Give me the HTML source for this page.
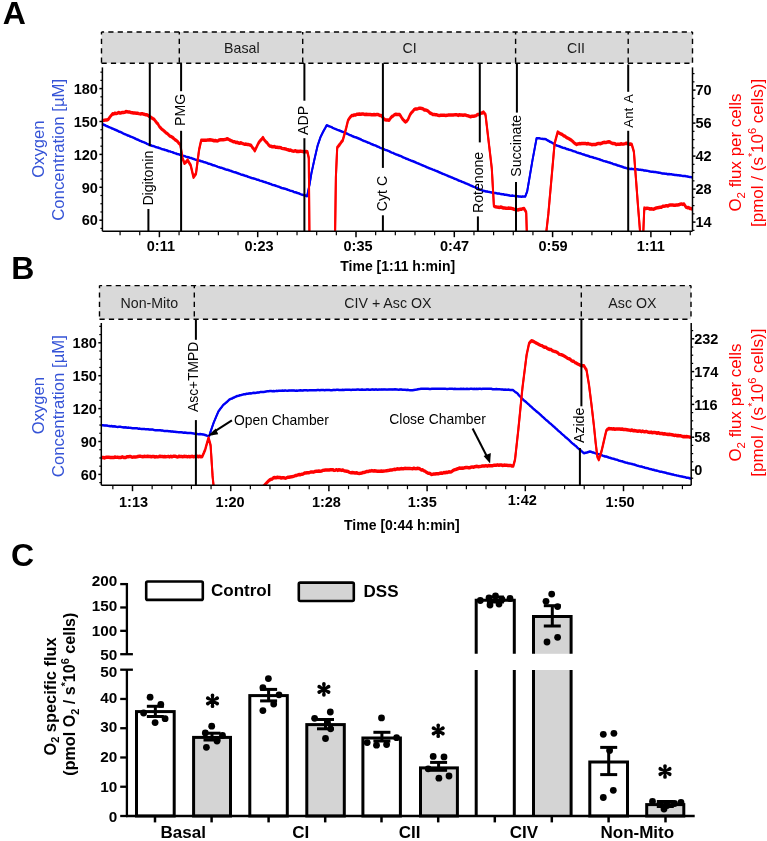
<!DOCTYPE html>
<html><head><meta charset="utf-8"><title>Figure</title>
<style>
html,body{margin:0;padding:0;background:#fff;}
body{width:767px;height:841px;overflow:hidden;}
svg{display:block;font-family:"Liberation Sans", sans-serif;will-change:transform;}
</style></head><body>
<svg width="767" height="841" viewBox="0 0 767 841">
<defs>
<clipPath id="clipA"><rect x="101.5" y="63" width="591" height="168.2"/></clipPath>
<clipPath id="clipB"><rect x="100" y="319" width="591.5" height="166.2"/></clipPath>
</defs>
<rect width="767" height="841" fill="#fff"/>
<text x="2.8" y="24" font-size="32" font-weight="bold" fill="#000" text-anchor="start">A</text>
<rect x="101.5" y="32" width="591" height="31.2" fill="#d9d9d9" stroke="none" stroke-width="1"/>
<line x1="101.5" y1="32" x2="692.5" y2="32" stroke="#000" stroke-width="1.4" stroke-dasharray="5.2,4.2" stroke-dashoffset="2.6"/>
<line x1="101.5" y1="63.2" x2="692.5" y2="63.2" stroke="#000" stroke-width="1.4" stroke-dasharray="5.2,4.2"/>
<line x1="101.5" y1="32" x2="101.5" y2="63.2" stroke="#000" stroke-width="1.4" stroke-dasharray="5.2,4.2" stroke-dashoffset="2.6"/>
<line x1="692.5" y1="32" x2="692.5" y2="63.2" stroke="#000" stroke-width="1.4" stroke-dasharray="5.2,4.2" stroke-dashoffset="2.6"/>
<line x1="179.3" y1="32" x2="179.3" y2="63.2" stroke="#000" stroke-width="1.4" stroke-dasharray="5.2,4.2" stroke-dashoffset="2.6"/>
<line x1="302.7" y1="32" x2="302.7" y2="63.2" stroke="#000" stroke-width="1.4" stroke-dasharray="5.2,4.2" stroke-dashoffset="2.6"/>
<line x1="515.6" y1="32" x2="515.6" y2="63.2" stroke="#000" stroke-width="1.4" stroke-dasharray="5.2,4.2" stroke-dashoffset="2.6"/>
<line x1="628.2" y1="32" x2="628.2" y2="63.2" stroke="#000" stroke-width="1.4" stroke-dasharray="5.2,4.2" stroke-dashoffset="2.6"/>
<text x="241.8" y="52.5" font-size="14.2" font-weight="normal" fill="#1a1a1a" text-anchor="middle">Basal</text>
<text x="409.5" y="52.5" font-size="14.2" font-weight="normal" fill="#1a1a1a" text-anchor="middle">CI</text>
<text x="576" y="52.5" font-size="14.2" font-weight="normal" fill="#1a1a1a" text-anchor="middle">CII</text>
<g clip-path="url(#clipA)">
<polyline points="102.6,124 103.8,124.46 105.01,124.93 106.21,125.64 107.41,125.96 108.61,126.65 109.82,127.12 111.02,127.54 112.22,128.23 113.42,128.59 114.63,129.26 115.83,129.66 117.03,130.19 118.23,130.84 119.44,131.51 120.64,131.79 121.84,132.35 123.04,133.03 124.25,133.67 125.45,134.06 126.65,134.53 127.85,135.26 129.06,135.46 130.26,136.28 131.46,136.6 132.66,137.08 133.87,137.6 135.07,138.19 136.27,138.9 137.47,139.2 138.68,139.88 139.88,140.42 141.08,140.86 142.28,141.45 143.49,141.8 144.69,142.33 145.89,142.91 147.09,143.61 148.3,144.05 149.5,144.6 150.7,144.92 151.91,145.41 153.11,145.75 154.32,146.08 155.52,146.65 156.72,147 157.93,147.23 159.13,147.73 160.33,148.11 161.54,148.62 162.74,148.96 163.95,149.19 165.15,149.82 166.35,149.9 167.56,150.4 168.76,150.91 169.97,151.08 171.17,151.59 172.37,151.81 173.58,152.43 174.78,152.85 175.98,153.17 177.19,153.67 178.39,153.86 179.6,154.38 180.8,154.7 182.08,155.12 183.36,155.5 184.64,155.84 185.92,156.37 187.2,156.79 188.48,157.01 189.76,157.47 191.04,157.64 192.32,158.25 193.6,158.62 194.88,159.13 196.16,159.46 197.44,159.65 198.72,160.07 200,160.5 201.2,160.96 202.4,161.12 203.6,161.67 204.8,161.96 206,162.34 207.2,162.72 208.4,163.37 209.6,163.53 210.8,163.97 212,164.42 213.2,164.99 214.4,165.1 215.6,165.63 216.8,166.06 218,166.58 219.2,166.95 220.4,167.36 221.6,167.55 222.8,167.99 224,168.37 225.2,168.95 226.4,169.38 227.6,169.48 228.8,169.89 230,170.3 231.2,170.7 232.4,171.19 233.6,171.62 234.8,171.9 236,172.2 237.2,172.75 238.4,173.12 239.6,173.59 240.8,174.13 242,174.43 243.2,174.76 244.4,175.19 245.6,175.61 246.8,175.78 248,176.48 249.2,176.84 250.4,177.27 251.6,177.64 252.8,177.89 254,178.28 255.2,178.57 256.4,179.16 257.6,179.35 258.8,179.75 260,180.3 261.21,180.6 262.42,180.98 263.62,181.44 264.83,181.74 266.04,182.12 267.25,182.57 268.45,182.96 269.66,183.45 270.87,183.73 272.08,184.43 273.28,184.74 274.49,184.97 275.7,185.41 276.91,185.85 278.12,186.25 279.32,186.56 280.53,187.23 281.74,187.68 282.95,187.89 284.15,188.29 285.36,188.55 286.57,188.96 287.78,189.44 288.98,189.82 290.19,190.42 291.4,190.58 292.61,190.93 293.82,191.66 295.02,191.91 296.23,192.17 297.44,192.72 298.65,192.93 299.85,193.51 301.06,194.07 302.27,194.43 303.48,194.77 304.68,195.01 305.89,195.45 307.1,195.9 309.5,184.5 311.4,173 312.85,166.35 314.3,159.7 315.95,152.55 317.6,145.4 319.05,141.1 320.5,136.8 322.15,133.38 323.8,130.2 325.25,127.65 326.7,124.9 327.91,125.42 329.11,126.01 330.32,126.36 331.53,126.82 332.74,127.54 333.94,128.11 335.15,128.57 336.36,129.06 337.57,129.57 338.77,130.04 339.98,130.37 341.19,130.98 342.39,131.42 343.6,131.81 344.81,132.32 346.02,132.91 347.22,133.41 348.43,134.07 349.64,134.67 350.84,135 352.05,135.68 353.26,136.2 354.47,136.7 355.67,136.99 356.88,137.44 358.09,137.95 359.3,138.45 360.5,138.96 361.71,139.61 362.92,140.22 364.12,140.7 365.33,141.08 366.54,141.65 367.75,142.2 368.95,142.45 370.16,143.17 371.37,143.76 372.58,144.22 373.78,144.72 374.99,145.12 376.2,145.52 377.4,146.25 378.61,146.59 379.82,147.26 381.03,147.83 382.23,148.13 383.44,148.64 384.65,149.34 385.86,149.76 387.06,150.07 388.27,150.56 389.48,151.08 390.68,151.85 391.89,152.32 393.1,152.59 394.31,153.34 395.51,153.9 396.72,154.29 397.93,154.69 399.13,155.27 400.34,155.62 401.55,156.08 402.76,156.93 403.96,157.32 405.17,157.79 406.38,158.44 407.59,158.76 408.79,159.43 410,159.8 411.21,160.42 412.41,160.7 413.62,161.22 414.82,161.73 416.03,162.22 417.23,162.84 418.44,163.23 419.64,163.79 420.85,164.18 422.06,164.97 423.26,165.27 424.47,165.81 425.67,166.35 426.88,166.97 428.08,167.3 429.29,167.98 430.49,168.33 431.7,168.84 432.91,169.34 434.11,169.66 435.32,170.32 436.52,170.73 437.73,171.16 438.93,171.95 440.14,172.23 441.34,172.84 442.55,173.43 443.76,173.87 444.96,174.29 446.17,174.86 447.37,175.38 448.58,175.96 449.78,176.22 450.99,176.88 452.19,177.27 453.4,177.79 454.61,178.47 455.81,178.87 457.02,179.39 458.22,179.97 459.43,180.52 460.63,180.86 461.84,181.42 463.04,181.88 464.25,182.39 465.46,182.95 466.66,183.37 467.87,183.9 469.07,184.38 470.28,185.05 471.48,185.47 472.69,186.03 473.89,186.56 475.1,186.9 476.48,187.45 477.87,188.19 479.25,188.96 480.63,189.56 482.02,189.94 483.4,190.7 484.6,190.78 485.8,191.11 487,191.19 488.2,191.46 489.4,191.62 490.6,192.05 491.8,192.2 493.08,192.51 494.37,192.76 495.65,192.7 496.94,193.11 498.22,193.3 499.51,193.32 500.79,193.79 502.08,194.03 503.36,193.97 504.65,194.44 505.93,194.45 507.22,194.69 508.5,194.9 509.8,195.25 511.1,195.37 512.4,195.3 513.7,195.58 515,195.78 516.3,195.89 517.6,196.02 518.9,196.3 520.16,196.23 521.42,196.38 522.68,196.13 523.94,196.32 525.2,196.3 527.2,191.1 528.53,183.27 529.85,175.45 531.17,167.62 532.5,159.8 533.87,152.5 535.23,145.2 536.6,137.9 537.94,138.04 539.29,138.04 540.63,138.31 541.97,138.57 543.31,138.69 544.66,138.69 546,139 547.34,139.95 548.67,140.65 550.01,141.49 551.35,141.96 552.69,142.79 554.03,143.48 555.36,144.53 556.7,145.2 557.95,145.54 559.2,145.91 560.45,146.43 561.7,147.03 562.95,147.41 564.2,147.63 565.45,148.01 566.7,148.71 567.95,149.01 569.2,149.47 570.45,149.67 571.7,150.08 572.95,150.73 574.2,151.05 575.45,151.35 576.7,152.08 577.95,152.39 579.2,152.87 580.45,153.03 581.7,153.6 582.91,154.11 584.12,154.21 585.32,154.88 586.53,155.12 587.74,155.46 588.95,155.92 590.16,156.44 591.36,156.59 592.57,156.92 593.78,157.45 594.99,157.73 596.19,158.07 597.4,158.47 598.61,158.82 599.82,159.26 601.03,159.68 602.23,160.06 603.44,160.61 604.65,160.82 605.86,161.28 607.07,161.55 608.27,162 609.48,162.26 610.69,162.73 611.9,163.03 613.11,163.67 614.31,163.99 615.52,164.25 616.73,164.73 617.94,165.28 619.14,165.37 620.35,166.01 621.56,166.25 622.77,166.66 623.98,167.17 625.18,167.39 626.39,167.82 627.6,168.2 628.9,168.39 630.2,168.62 631.5,168.52 632.8,168.82 634.1,168.9 635.4,169 636.7,169.04 638,169.2 639.24,169.34 640.47,169.42 641.71,169.64 642.95,169.81 644.18,170.24 645.42,170.26 646.65,170.42 647.89,170.58 649.13,171.04 650.36,171.24 651.6,171.36 652.84,171.41 654.07,171.59 655.31,171.8 656.55,172.05 657.78,172.13 659.02,172.43 660.25,172.55 661.49,172.99 662.73,173.19 663.96,173.23 665.2,173.4 666.43,173.47 667.66,173.89 668.9,173.81 670.13,173.98 671.36,174.02 672.59,174.31 673.82,174.5 675.05,174.67 676.29,174.72 677.52,174.99 678.75,174.97 679.98,175.22 681.21,175.32 682.45,175.59 683.68,175.62 684.91,175.77 686.14,176.03 687.37,176.17 688.6,176.45 689.84,176.59 691.07,176.83 692.3,176.9" fill="none" stroke="#0000f5" stroke-width="1.9" stroke-linejoin="round" stroke-linecap="round"/>
<polyline points="102.6,124.6 103.8,125.06 105.01,125.53 106.21,126.24 107.41,126.56 108.61,127.25 109.82,127.72 111.02,128.14 112.22,128.83 113.42,129.19 114.63,129.86 115.83,130.26 117.03,130.79 118.23,131.44 119.44,132.11 120.64,132.39 121.84,132.95 123.04,133.63 124.25,134.27 125.45,134.66 126.65,135.13 127.85,135.86 129.06,136.06 130.26,136.88 131.46,137.2 132.66,137.68 133.87,138.2 135.07,138.79 136.27,139.5 137.47,139.8 138.68,140.48 139.88,141.02 141.08,141.46 142.28,142.05 143.49,142.4 144.69,142.93 145.89,143.51 147.09,144.21 148.3,144.65 149.5,145.2 150.7,145.52 151.91,146.01 153.11,146.35 154.32,146.68 155.52,147.25 156.72,147.6 157.93,147.83 159.13,148.33 160.33,148.71 161.54,149.22 162.74,149.56 163.95,149.79 165.15,150.42 166.35,150.5 167.56,151 168.76,151.51 169.97,151.68 171.17,152.19 172.37,152.41 173.58,153.03 174.78,153.45 175.98,153.77 177.19,154.27 178.39,154.46 179.6,154.98 180.8,155.3 182.08,155.72 183.36,156.1 184.64,156.44 185.92,156.97 187.2,157.39 188.48,157.61 189.76,158.07 191.04,158.24 192.32,158.85 193.6,159.22 194.88,159.73 196.16,160.06 197.44,160.25 198.72,160.67 200,161.1 201.2,161.56 202.4,161.72 203.6,162.27 204.8,162.56 206,162.94 207.2,163.32 208.4,163.97 209.6,164.13 210.8,164.57 212,165.02 213.2,165.59 214.4,165.7 215.6,166.23 216.8,166.66 218,167.18 219.2,167.55 220.4,167.96 221.6,168.15 222.8,168.59 224,168.97 225.2,169.55 226.4,169.98 227.6,170.08 228.8,170.49 230,170.9 231.2,171.3 232.4,171.79 233.6,172.22 234.8,172.5 236,172.8 237.2,173.35 238.4,173.72 239.6,174.19 240.8,174.73 242,175.03 243.2,175.36 244.4,175.79 245.6,176.21 246.8,176.38 248,177.08 249.2,177.44 250.4,177.87 251.6,178.24 252.8,178.49 254,178.88 255.2,179.17 256.4,179.76 257.6,179.95 258.8,180.35 260,180.9 261.21,181.2 262.42,181.58 263.62,182.04 264.83,182.34 266.04,182.72 267.25,183.17 268.45,183.56 269.66,184.05 270.87,184.33 272.08,185.03 273.28,185.34 274.49,185.57 275.7,186.01 276.91,186.45 278.12,186.85 279.32,187.16 280.53,187.83 281.74,188.28 282.95,188.49 284.15,188.89 285.36,189.15 286.57,189.56 287.78,190.04 288.98,190.42 290.19,191.02 291.4,191.18 292.61,191.53 293.82,192.26 295.02,192.51 296.23,192.77 297.44,193.32 298.65,193.53 299.85,194.11 301.06,194.67 302.27,195.03 303.48,195.37 304.68,195.61 305.89,196.05 307.1,196.5 309.5,185.1 311.4,173.6 312.85,166.95 314.3,160.3 315.95,153.15 317.6,146 319.05,141.7 320.5,137.4 322.15,133.98 323.8,130.8 325.25,128.25 326.7,125.5 327.91,126.02 329.11,126.61 330.32,126.96 331.53,127.42 332.74,128.14 333.94,128.71 335.15,129.17 336.36,129.66 337.57,130.17 338.77,130.64 339.98,130.97 341.19,131.58 342.39,132.02 343.6,132.41 344.81,132.92 346.02,133.51 347.22,134.01 348.43,134.67 349.64,135.27 350.84,135.6 352.05,136.28 353.26,136.8 354.47,137.3 355.67,137.59 356.88,138.04 358.09,138.55 359.3,139.05 360.5,139.56 361.71,140.21 362.92,140.82 364.12,141.3 365.33,141.68 366.54,142.25 367.75,142.8 368.95,143.05 370.16,143.77 371.37,144.36 372.58,144.82 373.78,145.32 374.99,145.72 376.2,146.12 377.4,146.85 378.61,147.19 379.82,147.86 381.03,148.43 382.23,148.73 383.44,149.24 384.65,149.94 385.86,150.36 387.06,150.67 388.27,151.16 389.48,151.68 390.68,152.45 391.89,152.92 393.1,153.19 394.31,153.94 395.51,154.5 396.72,154.89 397.93,155.29 399.13,155.87 400.34,156.22 401.55,156.68 402.76,157.53 403.96,157.92 405.17,158.39 406.38,159.04 407.59,159.36 408.79,160.03 410,160.4 411.21,161.02 412.41,161.3 413.62,161.82 414.82,162.33 416.03,162.82 417.23,163.44 418.44,163.83 419.64,164.39 420.85,164.78 422.06,165.57 423.26,165.87 424.47,166.41 425.67,166.95 426.88,167.57 428.08,167.9 429.29,168.58 430.49,168.93 431.7,169.44 432.91,169.94 434.11,170.26 435.32,170.92 436.52,171.33 437.73,171.76 438.93,172.55 440.14,172.83 441.34,173.44 442.55,174.03 443.76,174.47 444.96,174.89 446.17,175.46 447.37,175.98 448.58,176.56 449.78,176.82 450.99,177.48 452.19,177.87 453.4,178.39 454.61,179.07 455.81,179.47 457.02,179.99 458.22,180.57 459.43,181.12 460.63,181.46 461.84,182.02 463.04,182.48 464.25,182.99 465.46,183.55 466.66,183.97 467.87,184.5 469.07,184.98 470.28,185.65 471.48,186.07 472.69,186.63 473.89,187.16 475.1,187.5 476.48,188.05 477.87,188.79 479.25,189.56 480.63,190.16 482.02,190.54 483.4,191.3 484.6,191.38 485.8,191.71 487,191.79 488.2,192.06 489.4,192.22 490.6,192.65 491.8,192.8 493.08,193.11 494.37,193.36 495.65,193.3 496.94,193.71 498.22,193.9 499.51,193.92 500.79,194.39 502.08,194.63 503.36,194.57 504.65,195.04 505.93,195.05 507.22,195.29 508.5,195.5 509.8,195.85 511.1,195.97 512.4,195.9 513.7,196.18 515,196.38 516.3,196.49 517.6,196.62 518.9,196.9 520.16,196.83 521.42,196.98 522.68,196.73 523.94,196.92 525.2,196.9 527.2,191.7 528.53,183.88 529.85,176.05 531.17,168.23 532.5,160.4 533.87,153.1 535.23,145.8 536.6,138.5 537.94,138.64 539.29,138.64 540.63,138.91 541.97,139.17 543.31,139.29 544.66,139.29 546,139.6 547.34,140.55 548.67,141.25 550.01,142.09 551.35,142.56 552.69,143.39 554.03,144.08 555.36,145.13 556.7,145.8 557.95,146.14 559.2,146.51 560.45,147.03 561.7,147.63 562.95,148.01 564.2,148.23 565.45,148.61 566.7,149.31 567.95,149.61 569.2,150.07 570.45,150.27 571.7,150.68 572.95,151.33 574.2,151.65 575.45,151.95 576.7,152.68 577.95,152.99 579.2,153.47 580.45,153.63 581.7,154.2 582.91,154.71 584.12,154.81 585.32,155.48 586.53,155.72 587.74,156.06 588.95,156.52 590.16,157.04 591.36,157.19 592.57,157.52 593.78,158.05 594.99,158.33 596.19,158.67 597.4,159.07 598.61,159.42 599.82,159.86 601.03,160.28 602.23,160.66 603.44,161.21 604.65,161.42 605.86,161.88 607.07,162.15 608.27,162.6 609.48,162.86 610.69,163.33 611.9,163.63 613.11,164.27 614.31,164.59 615.52,164.85 616.73,165.33 617.94,165.88 619.14,165.97 620.35,166.61 621.56,166.85 622.77,167.26 623.98,167.77 625.18,167.99 626.39,168.42 627.6,168.8 628.9,168.99 630.2,169.22 631.5,169.12 632.8,169.42 634.1,169.5 635.4,169.6 636.7,169.64 638,169.8 639.24,169.94 640.47,170.02 641.71,170.24 642.95,170.41 644.18,170.84 645.42,170.86 646.65,171.02 647.89,171.18 649.13,171.64 650.36,171.84 651.6,171.96 652.84,172.01 654.07,172.19 655.31,172.4 656.55,172.65 657.78,172.73 659.02,173.03 660.25,173.15 661.49,173.59 662.73,173.79 663.96,173.83 665.2,174 666.43,174.07 667.66,174.49 668.9,174.41 670.13,174.58 671.36,174.62 672.59,174.91 673.82,175.1 675.05,175.27 676.29,175.32 677.52,175.59 678.75,175.57 679.98,175.82 681.21,175.92 682.45,176.19 683.68,176.22 684.91,176.37 686.14,176.63 687.37,176.77 688.6,177.05 689.84,177.19 691.07,177.43 692.3,177.5" fill="none" stroke="#0000f5" stroke-width="1.9" stroke-linejoin="round" stroke-linecap="round"/>
<polyline points="102.5,119.75 103.95,119.6 105.4,119.37 106.85,119.23 108.3,118.65 109.7,116.69 111.1,114.78 112.5,113.05 113.72,113.26 114.93,112.42 116.15,112.7 117.37,112.46 118.58,111.81 119.8,112.27 121.02,112.14 122.23,111.75 123.45,111.66 124.67,111.55 125.88,110.84 127.1,110.95 128.4,111.16 129.7,111.33 131,111.78 132.3,111.94 133.6,112.15 134.9,112.14 136.2,112.58 137.5,112.45 138.81,112.86 140.12,113.13 141.44,113.02 142.75,113.12 144.06,113.47 145.38,113.91 146.69,113.97 148,114.55 149.24,115.64 150.48,116.24 151.72,117.11 152.96,117.93 154.2,118.65 155.46,120.47 156.72,122 157.98,123.29 159.24,125.61 160.5,127.05 161.88,128.47 163.27,129.49 164.65,130.73 166.03,132.04 167.42,132.79 168.8,134.35 170.02,135.41 171.23,135.89 172.45,136.61 173.67,137.63 174.88,138.87 176.1,139.55 177.5,140.71 178.9,142.54 180.3,143.75 182.4,157.25 184.5,162.55 186.05,161.33 187.6,159.35 189.15,161.95 190.7,164.55 192.1,170.5 193.5,176.45 194.75,174.61 196,172.95 197.55,160.95 199.1,148.95 201.2,139.55 202.42,139.47 203.63,139.56 204.85,139.56 206.07,139.38 207.28,139.33 208.5,139.15 209.88,138.98 211.27,139.2 212.65,139.45 214.03,140.01 215.42,139.83 216.8,140.15 218.1,139.94 219.4,139.23 220.7,139.01 222,138.92 223.3,138.98 224.6,138.73 225.9,138.45 227.2,138.05 228.46,138.48 229.72,139.26 230.98,139.82 232.24,140.42 233.5,141.05 234.75,140.97 236,141.82 237.25,141.5 238.5,142.35 239.75,142.55 241,142.04 242.25,142.63 243.5,143.15 244.75,143.49 246,143.35 247.3,143.66 248.6,143.86 249.9,144.17 251.2,144.75 252.4,146.84 253.6,147.99 254.8,149.95 256.55,146.37 258.3,142.65 259.83,140.43 261.37,138.8 262.9,136.85 264.25,139.11 265.6,140.65 267,141.89 268.4,143.97 269.8,145.25 271.02,145.46 272.23,145.96 273.45,146.01 274.67,145.84 275.88,146.57 277.1,146.45 278.32,146.73 279.53,146.65 280.75,146.93 281.97,147.61 283.18,147.87 284.4,148.04 285.62,148.2 286.83,148.66 288.05,148.93 289.27,149.64 290.48,149.26 291.7,149.95 292.91,150.24 294.12,150.39 295.32,149.9 296.53,150.63 297.74,150.54 298.95,150.78 300.15,150.37 301.36,150.52 302.57,150.63 303.78,151.2 304.98,150.95 306.19,150.85 307.4,151.05 308.8,157.25 309.4,231.25" fill="none" stroke="#ff0000" stroke-width="2" stroke-linejoin="round" stroke-linecap="round"/>
<polyline points="102.5,121.25 103.95,121.1 105.4,120.87 106.85,120.73 108.3,120.15 109.7,118.19 111.1,116.28 112.5,114.55 113.72,114.76 114.93,113.92 116.15,114.2 117.37,113.96 118.58,113.31 119.8,113.77 121.02,113.64 122.23,113.25 123.45,113.16 124.67,113.05 125.88,112.34 127.1,112.45 128.4,112.66 129.7,112.83 131,113.28 132.3,113.44 133.6,113.65 134.9,113.64 136.2,114.08 137.5,113.95 138.81,114.36 140.12,114.63 141.44,114.52 142.75,114.62 144.06,114.97 145.38,115.41 146.69,115.47 148,116.05 149.24,117.14 150.48,117.74 151.72,118.61 152.96,119.43 154.2,120.15 155.46,121.97 156.72,123.5 157.98,124.79 159.24,127.11 160.5,128.55 161.88,129.97 163.27,130.99 164.65,132.23 166.03,133.54 167.42,134.29 168.8,135.85 170.02,136.91 171.23,137.39 172.45,138.11 173.67,139.13 174.88,140.37 176.1,141.05 177.5,142.21 178.9,144.04 180.3,145.25 182.4,158.75 184.5,164.05 186.05,162.83 187.6,160.85 189.15,163.45 190.7,166.05 192.1,172 193.5,177.95 194.75,176.11 196,174.45 197.55,162.45 199.1,150.45 201.2,141.05 202.42,140.97 203.63,141.06 204.85,141.06 206.07,140.88 207.28,140.83 208.5,140.65 209.88,140.48 211.27,140.7 212.65,140.95 214.03,141.51 215.42,141.33 216.8,141.65 218.1,141.44 219.4,140.73 220.7,140.51 222,140.42 223.3,140.48 224.6,140.23 225.9,139.95 227.2,139.55 228.46,139.98 229.72,140.76 230.98,141.32 232.24,141.92 233.5,142.55 234.75,142.47 236,143.32 237.25,143 238.5,143.85 239.75,144.05 241,143.54 242.25,144.13 243.5,144.65 244.75,144.99 246,144.85 247.3,145.16 248.6,145.36 249.9,145.67 251.2,146.25 252.4,148.34 253.6,149.49 254.8,151.45 256.55,147.87 258.3,144.15 259.83,141.93 261.37,140.3 262.9,138.35 264.25,140.61 265.6,142.15 267,143.39 268.4,145.47 269.8,146.75 271.02,146.96 272.23,147.46 273.45,147.51 274.67,147.34 275.88,148.07 277.1,147.95 278.32,148.23 279.53,148.15 280.75,148.43 281.97,149.11 283.18,149.37 284.4,149.54 285.62,149.7 286.83,150.16 288.05,150.43 289.27,151.14 290.48,150.76 291.7,151.45 292.91,151.74 294.12,151.89 295.32,151.4 296.53,152.13 297.74,152.04 298.95,152.28 300.15,151.87 301.36,152.02 302.57,152.13 303.78,152.7 304.98,152.45 306.19,152.35 307.4,152.55 308.8,158.75 309.4,232.75" fill="none" stroke="#ff0000" stroke-width="2" stroke-linejoin="round" stroke-linecap="round"/>
<polyline points="335.1,231.25 335.9,176.05 337.2,146.85 338.45,145.24 339.7,143.75 341.25,141.47 342.8,139.55 344.4,133.8 346,128.05 348,119.75 349.23,117.76 350.47,116.16 351.7,114.85 352.96,114.84 354.22,114.12 355.48,114.36 356.74,113.53 358,113.45 359.38,113.26 360.77,113.46 362.15,113.2 363.53,113.35 364.92,113.81 366.3,113.45 367.6,113.81 368.9,113.8 370.2,113.7 371.5,113.98 372.8,114.05 374.1,113.79 375.4,113.98 376.7,113.85 378.23,113.82 379.77,114.7 381.3,114.85 382.53,116.21 383.77,117.85 385,119.05 386.4,119.3 387.8,119.15 389.2,119.45 390.6,117.24 392,115.75 393.25,115.14 394.5,113.85 395.8,113.55 397.1,113.83 398.4,113.72 399.7,113.85 401.1,115.89 402.5,118.25 404,119.89 405.5,121.15 406.75,120.33 408,118.75 410.1,113.85 411.5,111.92 412.9,110.51 414.3,108.65 415.54,108.27 416.78,108.26 418.02,107.91 419.26,107.5 420.5,107.55 421.76,107.7 423.02,108.16 424.28,109.13 425.54,109.23 426.8,109.65 428.04,110.27 429.28,111.66 430.52,112.57 431.76,112.97 433,113.85 434.26,113.76 435.52,114 436.78,114.12 438.04,114.52 439.3,114.85 440.6,114.45 441.9,114.49 443.2,114.43 444.5,114.61 445.8,114.78 447.1,114.6 448.4,114.26 449.7,114.25 450.92,114.18 452.13,114.27 453.35,114.15 454.57,114.12 455.78,113.9 457,114.07 458.22,114.62 459.43,113.95 460.65,114.25 461.87,114.35 463.08,114.54 464.3,114.25 465.56,114.36 466.82,114.75 468.08,115.07 469.34,115.53 470.6,115.95 471.98,115.56 473.37,115.61 474.75,115.18 476.13,114.85 477.52,113.82 478.9,113.85 480.43,112.64 481.97,112.35 483.5,111.35 485.5,113.85 486.76,124.63 488.02,135.41 489.28,146.19 490.54,156.97 491.8,167.75 493.9,205.25 495.45,206.12 497,206.35 498.28,206.44 499.56,206.64 500.83,206.28 502.11,206.71 503.39,207.25 504.67,207.28 505.94,207.41 507.22,207.62 508.5,207.35 509.88,207.43 511.27,207.6 512.65,207.92 514.03,208.5 515.42,208.91 516.8,209.05 518.02,209.19 519.23,208.79 520.45,208.52 521.67,208.4 522.88,207.93 524.1,207.75 526.2,211.55 526.8,231.25" fill="none" stroke="#ff0000" stroke-width="2" stroke-linejoin="round" stroke-linecap="round"/>
<polyline points="335.1,232.75 335.9,177.55 337.2,148.35 338.45,146.74 339.7,145.25 341.25,142.97 342.8,141.05 344.4,135.3 346,129.55 348,121.25 349.23,119.26 350.47,117.66 351.7,116.35 352.96,116.34 354.22,115.62 355.48,115.86 356.74,115.03 358,114.95 359.38,114.76 360.77,114.96 362.15,114.7 363.53,114.85 364.92,115.31 366.3,114.95 367.6,115.31 368.9,115.3 370.2,115.2 371.5,115.48 372.8,115.55 374.1,115.29 375.4,115.48 376.7,115.35 378.23,115.32 379.77,116.2 381.3,116.35 382.53,117.71 383.77,119.35 385,120.55 386.4,120.8 387.8,120.65 389.2,120.95 390.6,118.74 392,117.25 393.25,116.64 394.5,115.35 395.8,115.05 397.1,115.33 398.4,115.22 399.7,115.35 401.1,117.39 402.5,119.75 404,121.39 405.5,122.65 406.75,121.83 408,120.25 410.1,115.35 411.5,113.42 412.9,112.01 414.3,110.15 415.54,109.77 416.78,109.76 418.02,109.41 419.26,109 420.5,109.05 421.76,109.2 423.02,109.66 424.28,110.63 425.54,110.73 426.8,111.15 428.04,111.77 429.28,113.16 430.52,114.07 431.76,114.47 433,115.35 434.26,115.26 435.52,115.5 436.78,115.62 438.04,116.02 439.3,116.35 440.6,115.95 441.9,115.99 443.2,115.93 444.5,116.11 445.8,116.28 447.1,116.1 448.4,115.76 449.7,115.75 450.92,115.68 452.13,115.77 453.35,115.65 454.57,115.62 455.78,115.4 457,115.57 458.22,116.12 459.43,115.45 460.65,115.75 461.87,115.85 463.08,116.04 464.3,115.75 465.56,115.86 466.82,116.25 468.08,116.57 469.34,117.03 470.6,117.45 471.98,117.06 473.37,117.11 474.75,116.68 476.13,116.35 477.52,115.32 478.9,115.35 480.43,114.14 481.97,113.85 483.5,112.85 485.5,115.35 486.76,126.13 488.02,136.91 489.28,147.69 490.54,158.47 491.8,169.25 493.9,206.75 495.45,207.62 497,207.85 498.28,207.94 499.56,208.14 500.83,207.78 502.11,208.21 503.39,208.75 504.67,208.78 505.94,208.91 507.22,209.12 508.5,208.85 509.88,208.93 511.27,209.1 512.65,209.42 514.03,210 515.42,210.41 516.8,210.55 518.02,210.69 519.23,210.29 520.45,210.02 521.67,209.9 522.88,209.43 524.1,209.25 526.2,213.05 526.8,232.75" fill="none" stroke="#ff0000" stroke-width="2" stroke-linejoin="round" stroke-linecap="round"/>
<polyline points="546.3,231.25 548.3,213.65 549.56,199.45 550.82,185.25 552.08,171.05 553.34,156.85 554.6,142.65 556.15,136.95 557.7,131.25 559.3,132.29 560.9,133.25 562.28,133.68 563.67,135.08 565.05,135.44 566.43,136.79 567.82,137.37 569.2,138.05 570.42,138.84 571.63,139.65 572.85,140.7 574.07,141.96 575.28,142.96 576.5,143.75 577.8,143.16 579.1,142.86 580.4,142.94 581.7,142.65 582.95,142.83 584.2,142.78 585.45,142.76 586.7,143.17 587.95,142.81 589.2,143.15 590.45,143.39 591.7,143.9 592.95,143.76 594.2,143.75 595.42,143.83 596.63,143.28 597.85,142.86 599.07,142.65 600.28,142.99 601.5,142.56 602.72,142.02 603.93,141.57 605.15,141.72 606.37,141.64 607.58,141.21 608.8,141.05 610.02,141.31 611.23,142.08 612.45,142.74 613.67,142.63 614.88,142.93 616.1,143.75 617.38,143.5 618.66,143.44 619.93,143.53 621.21,143.02 622.49,143.38 623.77,143.21 625.04,142.9 626.32,142.54 627.6,142.65 629,143.39 630.4,143.23 631.8,143.75 633.9,151.05 635.27,169.12 636.63,187.18 638,205.25 640.1,231.25" fill="none" stroke="#ff0000" stroke-width="2" stroke-linejoin="round" stroke-linecap="round"/>
<polyline points="546.3,232.75 548.3,215.15 549.56,200.95 550.82,186.75 552.08,172.55 553.34,158.35 554.6,144.15 556.15,138.45 557.7,132.75 559.3,133.79 560.9,134.75 562.28,135.18 563.67,136.58 565.05,136.94 566.43,138.29 567.82,138.87 569.2,139.55 570.42,140.34 571.63,141.15 572.85,142.2 574.07,143.46 575.28,144.46 576.5,145.25 577.8,144.66 579.1,144.36 580.4,144.44 581.7,144.15 582.95,144.33 584.2,144.28 585.45,144.26 586.7,144.67 587.95,144.31 589.2,144.65 590.45,144.89 591.7,145.4 592.95,145.26 594.2,145.25 595.42,145.33 596.63,144.78 597.85,144.36 599.07,144.15 600.28,144.49 601.5,144.06 602.72,143.52 603.93,143.07 605.15,143.22 606.37,143.14 607.58,142.71 608.8,142.55 610.02,142.81 611.23,143.58 612.45,144.24 613.67,144.13 614.88,144.43 616.1,145.25 617.38,145 618.66,144.94 619.93,145.03 621.21,144.52 622.49,144.88 623.77,144.71 625.04,144.4 626.32,144.04 627.6,144.15 629,144.89 630.4,144.73 631.8,145.25 633.9,152.55 635.27,170.62 636.63,188.68 638,206.75 640.1,232.75" fill="none" stroke="#ff0000" stroke-width="2" stroke-linejoin="round" stroke-linecap="round"/>
<polyline points="643.3,231.25 644.3,207.35 645.68,207.77 647.07,207.47 648.45,207.63 649.83,208.23 651.22,208.02 652.6,208.35 653.86,208.4 655.12,207.73 656.38,207.17 657.64,206.89 658.9,206.73 660.16,206.62 661.42,206.54 662.68,205.59 663.94,205.47 665.2,205.25 666.45,204.88 667.69,205.35 668.94,204.54 670.19,204.33 671.43,204.2 672.68,204.32 673.93,204.59 675.17,204.44 676.42,204.18 677.67,204.25 678.91,204.06 680.16,203.43 681.41,203.18 682.65,203.64 683.9,203.15 686,206.35 687.26,206.95 688.52,206.78 689.78,207.68 691.04,207.85 692.3,208.35" fill="none" stroke="#ff0000" stroke-width="2" stroke-linejoin="round" stroke-linecap="round"/>
<polyline points="643.3,232.75 644.3,208.85 645.68,209.27 647.07,208.97 648.45,209.13 649.83,209.73 651.22,209.52 652.6,209.85 653.86,209.9 655.12,209.23 656.38,208.67 657.64,208.39 658.9,208.23 660.16,208.12 661.42,208.04 662.68,207.09 663.94,206.97 665.2,206.75 666.45,206.38 667.69,206.85 668.94,206.04 670.19,205.83 671.43,205.7 672.68,205.82 673.93,206.09 675.17,205.94 676.42,205.68 677.67,205.75 678.91,205.56 680.16,204.93 681.41,204.68 682.65,205.14 683.9,204.65 686,207.85 687.26,208.45 688.52,208.28 689.78,209.18 691.04,209.35 692.3,209.85" fill="none" stroke="#ff0000" stroke-width="2" stroke-linejoin="round" stroke-linecap="round"/>
</g>
<line x1="102.4" y1="67.4" x2="102.4" y2="231.2" stroke="#000" stroke-width="1.5"/>
<line x1="102.4" y1="220.2" x2="99.4" y2="220.2" stroke="#000" stroke-width="1.5"/>
<text x="97.9" y="225.4" font-size="14.5" font-weight="bold" fill="#000" text-anchor="end">60</text>
<line x1="102.4" y1="187.3" x2="99.4" y2="187.3" stroke="#000" stroke-width="1.5"/>
<text x="97.9" y="192.5" font-size="14.5" font-weight="bold" fill="#000" text-anchor="end">90</text>
<line x1="102.4" y1="154.4" x2="99.4" y2="154.4" stroke="#000" stroke-width="1.5"/>
<text x="97.9" y="159.6" font-size="14.5" font-weight="bold" fill="#000" text-anchor="end">120</text>
<line x1="102.4" y1="121.5" x2="99.4" y2="121.5" stroke="#000" stroke-width="1.5"/>
<text x="97.9" y="126.7" font-size="14.5" font-weight="bold" fill="#000" text-anchor="end">150</text>
<line x1="102.4" y1="88.6" x2="99.4" y2="88.6" stroke="#000" stroke-width="1.5"/>
<text x="97.9" y="93.8" font-size="14.5" font-weight="bold" fill="#000" text-anchor="end">180</text>
<line x1="102.4" y1="228.42" x2="100.4" y2="228.42" stroke="#000" stroke-width="1.2"/>
<line x1="102.4" y1="211.97" x2="100.4" y2="211.97" stroke="#000" stroke-width="1.2"/>
<line x1="102.4" y1="203.75" x2="100.4" y2="203.75" stroke="#000" stroke-width="1.2"/>
<line x1="102.4" y1="195.52" x2="100.4" y2="195.52" stroke="#000" stroke-width="1.2"/>
<line x1="102.4" y1="179.07" x2="100.4" y2="179.07" stroke="#000" stroke-width="1.2"/>
<line x1="102.4" y1="170.85" x2="100.4" y2="170.85" stroke="#000" stroke-width="1.2"/>
<line x1="102.4" y1="162.62" x2="100.4" y2="162.62" stroke="#000" stroke-width="1.2"/>
<line x1="102.4" y1="146.17" x2="100.4" y2="146.17" stroke="#000" stroke-width="1.2"/>
<line x1="102.4" y1="137.95" x2="100.4" y2="137.95" stroke="#000" stroke-width="1.2"/>
<line x1="102.4" y1="129.72" x2="100.4" y2="129.72" stroke="#000" stroke-width="1.2"/>
<line x1="102.4" y1="113.27" x2="100.4" y2="113.27" stroke="#000" stroke-width="1.2"/>
<line x1="102.4" y1="105.05" x2="100.4" y2="105.05" stroke="#000" stroke-width="1.2"/>
<line x1="102.4" y1="96.82" x2="100.4" y2="96.82" stroke="#000" stroke-width="1.2"/>
<line x1="102.4" y1="80.38" x2="100.4" y2="80.38" stroke="#000" stroke-width="1.2"/>
<line x1="102.4" y1="72.15" x2="100.4" y2="72.15" stroke="#000" stroke-width="1.2"/>
<line x1="692.5" y1="67.4" x2="692.5" y2="231.2" stroke="#000" stroke-width="1.5"/>
<line x1="692.5" y1="222.1" x2="695.5" y2="222.1" stroke="#000" stroke-width="1.5"/>
<text x="695.5" y="227.3" font-size="14.5" font-weight="bold" fill="#000" text-anchor="start">14</text>
<line x1="692.5" y1="189.1" x2="695.5" y2="189.1" stroke="#000" stroke-width="1.5"/>
<text x="695.5" y="194.3" font-size="14.5" font-weight="bold" fill="#000" text-anchor="start">28</text>
<line x1="692.5" y1="156.1" x2="695.5" y2="156.1" stroke="#000" stroke-width="1.5"/>
<text x="695.5" y="161.3" font-size="14.5" font-weight="bold" fill="#000" text-anchor="start">42</text>
<line x1="692.5" y1="123.1" x2="695.5" y2="123.1" stroke="#000" stroke-width="1.5"/>
<text x="695.5" y="128.3" font-size="14.5" font-weight="bold" fill="#000" text-anchor="start">56</text>
<line x1="692.5" y1="90.1" x2="695.5" y2="90.1" stroke="#000" stroke-width="1.5"/>
<text x="695.5" y="95.3" font-size="14.5" font-weight="bold" fill="#000" text-anchor="start">70</text>
<line x1="692.5" y1="230.35" x2="694.5" y2="230.35" stroke="#000" stroke-width="1.2"/>
<line x1="692.5" y1="213.85" x2="694.5" y2="213.85" stroke="#000" stroke-width="1.2"/>
<line x1="692.5" y1="205.6" x2="694.5" y2="205.6" stroke="#000" stroke-width="1.2"/>
<line x1="692.5" y1="197.35" x2="694.5" y2="197.35" stroke="#000" stroke-width="1.2"/>
<line x1="692.5" y1="180.85" x2="694.5" y2="180.85" stroke="#000" stroke-width="1.2"/>
<line x1="692.5" y1="172.6" x2="694.5" y2="172.6" stroke="#000" stroke-width="1.2"/>
<line x1="692.5" y1="164.35" x2="694.5" y2="164.35" stroke="#000" stroke-width="1.2"/>
<line x1="692.5" y1="147.85" x2="694.5" y2="147.85" stroke="#000" stroke-width="1.2"/>
<line x1="692.5" y1="139.6" x2="694.5" y2="139.6" stroke="#000" stroke-width="1.2"/>
<line x1="692.5" y1="131.35" x2="694.5" y2="131.35" stroke="#000" stroke-width="1.2"/>
<line x1="692.5" y1="114.85" x2="694.5" y2="114.85" stroke="#000" stroke-width="1.2"/>
<line x1="692.5" y1="106.6" x2="694.5" y2="106.6" stroke="#000" stroke-width="1.2"/>
<line x1="692.5" y1="98.35" x2="694.5" y2="98.35" stroke="#000" stroke-width="1.2"/>
<line x1="692.5" y1="81.85" x2="694.5" y2="81.85" stroke="#000" stroke-width="1.2"/>
<line x1="692.5" y1="73.6" x2="694.5" y2="73.6" stroke="#000" stroke-width="1.2"/>
<line x1="102.4" y1="231.2" x2="692.5" y2="231.2" stroke="#000" stroke-width="1.5"/>
<line x1="159.4" y1="231.2" x2="159.4" y2="237.2" stroke="#000" stroke-width="1.5"/>
<text x="160.9" y="251.3" font-size="14.5" font-weight="bold" fill="#000" text-anchor="middle">0:11</text>
<line x1="257.7" y1="231.2" x2="257.7" y2="237.2" stroke="#000" stroke-width="1.5"/>
<text x="259" y="251.3" font-size="14.5" font-weight="bold" fill="#000" text-anchor="middle">0:23</text>
<line x1="356" y1="231.2" x2="356" y2="237.2" stroke="#000" stroke-width="1.5"/>
<text x="358" y="251.3" font-size="14.5" font-weight="bold" fill="#000" text-anchor="middle">0:35</text>
<line x1="454.3" y1="231.2" x2="454.3" y2="237.2" stroke="#000" stroke-width="1.5"/>
<text x="454.5" y="251.3" font-size="14.5" font-weight="bold" fill="#000" text-anchor="middle">0:47</text>
<line x1="552.6" y1="231.2" x2="552.6" y2="237.2" stroke="#000" stroke-width="1.5"/>
<text x="553" y="251.3" font-size="14.5" font-weight="bold" fill="#000" text-anchor="middle">0:59</text>
<line x1="650.9" y1="231.2" x2="650.9" y2="237.2" stroke="#000" stroke-width="1.5"/>
<text x="650.8" y="251.3" font-size="14.5" font-weight="bold" fill="#000" text-anchor="middle">1:11</text>
<line x1="120.08" y1="231.2" x2="120.08" y2="235.2" stroke="#000" stroke-width="1.2"/>
<line x1="139.74" y1="231.2" x2="139.74" y2="235.2" stroke="#000" stroke-width="1.2"/>
<line x1="179.06" y1="231.2" x2="179.06" y2="235.2" stroke="#000" stroke-width="1.2"/>
<line x1="198.72" y1="231.2" x2="198.72" y2="235.2" stroke="#000" stroke-width="1.2"/>
<line x1="218.38" y1="231.2" x2="218.38" y2="235.2" stroke="#000" stroke-width="1.2"/>
<line x1="238.04" y1="231.2" x2="238.04" y2="235.2" stroke="#000" stroke-width="1.2"/>
<line x1="277.36" y1="231.2" x2="277.36" y2="235.2" stroke="#000" stroke-width="1.2"/>
<line x1="297.02" y1="231.2" x2="297.02" y2="235.2" stroke="#000" stroke-width="1.2"/>
<line x1="316.68" y1="231.2" x2="316.68" y2="235.2" stroke="#000" stroke-width="1.2"/>
<line x1="336.34" y1="231.2" x2="336.34" y2="235.2" stroke="#000" stroke-width="1.2"/>
<line x1="375.66" y1="231.2" x2="375.66" y2="235.2" stroke="#000" stroke-width="1.2"/>
<line x1="395.32" y1="231.2" x2="395.32" y2="235.2" stroke="#000" stroke-width="1.2"/>
<line x1="414.98" y1="231.2" x2="414.98" y2="235.2" stroke="#000" stroke-width="1.2"/>
<line x1="434.64" y1="231.2" x2="434.64" y2="235.2" stroke="#000" stroke-width="1.2"/>
<line x1="473.96" y1="231.2" x2="473.96" y2="235.2" stroke="#000" stroke-width="1.2"/>
<line x1="493.62" y1="231.2" x2="493.62" y2="235.2" stroke="#000" stroke-width="1.2"/>
<line x1="513.28" y1="231.2" x2="513.28" y2="235.2" stroke="#000" stroke-width="1.2"/>
<line x1="532.94" y1="231.2" x2="532.94" y2="235.2" stroke="#000" stroke-width="1.2"/>
<line x1="572.26" y1="231.2" x2="572.26" y2="235.2" stroke="#000" stroke-width="1.2"/>
<line x1="591.92" y1="231.2" x2="591.92" y2="235.2" stroke="#000" stroke-width="1.2"/>
<line x1="611.58" y1="231.2" x2="611.58" y2="235.2" stroke="#000" stroke-width="1.2"/>
<line x1="631.24" y1="231.2" x2="631.24" y2="235.2" stroke="#000" stroke-width="1.2"/>
<line x1="670.56" y1="231.2" x2="670.56" y2="235.2" stroke="#000" stroke-width="1.2"/>
<line x1="690.22" y1="231.2" x2="690.22" y2="235.2" stroke="#000" stroke-width="1.2"/>
<text x="397.7" y="270.9" font-size="14" font-weight="bold" fill="#000" text-anchor="middle">Time [1:11 h:min]</text>
<line x1="149.8" y1="63.2" x2="149.8" y2="146.2" stroke="#000" stroke-width="2"/>
<line x1="148.4" y1="209" x2="148.4" y2="231.2" stroke="#000" stroke-width="2"/>
<text x="0" y="0" font-size="14.1" font-weight="normal" fill="#000" text-anchor="middle" transform="translate(152.75,178.15) rotate(-90)">Digitonin</text>
<line x1="181.1" y1="63.2" x2="181.1" y2="91.2" stroke="#000" stroke-width="2"/>
<line x1="181.1" y1="130.8" x2="181.1" y2="231.2" stroke="#000" stroke-width="2"/>
<text x="0" y="0" font-size="14.1" font-weight="normal" fill="#000" text-anchor="middle" transform="translate(184.75,109.9) rotate(-90)">PMG</text>
<line x1="304.4" y1="63.2" x2="304.4" y2="100.7" stroke="#000" stroke-width="2"/>
<line x1="304.4" y1="138.2" x2="304.4" y2="231.2" stroke="#000" stroke-width="2"/>
<text x="0" y="0" font-size="14.1" font-weight="normal" fill="#000" text-anchor="middle" transform="translate(308.05,120.45) rotate(-90)">ADP</text>
<line x1="382.9" y1="63.2" x2="382.9" y2="167.9" stroke="#000" stroke-width="2"/>
<line x1="382.9" y1="215.3" x2="382.9" y2="231.2" stroke="#000" stroke-width="2"/>
<text x="0" y="0" font-size="14.1" font-weight="normal" fill="#000" text-anchor="middle" transform="translate(386.55,193.55) rotate(-90)">Cyt C</text>
<line x1="479.8" y1="63.2" x2="479.8" y2="142.4" stroke="#000" stroke-width="2"/>
<line x1="477.9" y1="216.4" x2="477.9" y2="231.2" stroke="#000" stroke-width="2"/>
<text x="0" y="0" font-size="14.1" font-weight="normal" fill="#000" text-anchor="middle" transform="translate(483.2,182.35) rotate(-90)">Rotenone</text>
<line x1="516.9" y1="63.2" x2="516.9" y2="112.6" stroke="#000" stroke-width="2"/>
<line x1="516" y1="181.9" x2="516" y2="231.2" stroke="#000" stroke-width="2"/>
<text x="0" y="0" font-size="14.1" font-weight="normal" fill="#000" text-anchor="middle" transform="translate(520.6,145.75) rotate(-90)">Succinate</text>
<line x1="628.2" y1="64.5" x2="628.2" y2="91.8" stroke="#000" stroke-width="2"/>
<line x1="628.2" y1="130.8" x2="628.2" y2="231.2" stroke="#000" stroke-width="2"/>
<text x="0" y="0" font-size="13.2" font-weight="normal" fill="#000" text-anchor="middle" transform="translate(632.54,110.9) rotate(-90)" word-spacing="2.0">Ant A</text>
<text x="0" y="0" font-size="16.6" font-weight="normal" fill="#3553d6" text-anchor="middle" transform="translate(44,149.2) rotate(-90)">Oxygen</text>
<text x="0" y="0" font-size="16.8" font-weight="normal" fill="#3553d6" text-anchor="middle" transform="translate(63.5,149.8) rotate(-90)">Concentration [µM]</text>
<text x="0" y="0" font-size="16.9" font-weight="normal" fill="#ff0000" text-anchor="middle" transform="translate(741.2,152.5) rotate(-90)">O<tspan font-size="11.5" dy="3.5">2</tspan><tspan dy="-3.5"> flux per cells</tspan></text>
<text x="0" y="0" font-size="17" font-weight="normal" fill="#ff0000" text-anchor="middle" transform="translate(762.8,152.9) rotate(-90)">[pmol / (s<tspan font-size="10.5" dy="-6.5">*</tspan><tspan dy="6.5">10</tspan><tspan font-size="11" dy="-6.5">6</tspan><tspan dy="6.5"> cells)]</tspan></text>
<text x="11.3" y="278.6" font-size="32" font-weight="bold" fill="#000" text-anchor="start">B</text>
<rect x="99.5" y="285.6" width="591.5" height="33.6" fill="#d9d9d9" stroke="none" stroke-width="1"/>
<line x1="99.5" y1="285.6" x2="691" y2="285.6" stroke="#000" stroke-width="1.4" stroke-dasharray="5.2,4.2" stroke-dashoffset="2.6"/>
<line x1="99.5" y1="319.2" x2="691" y2="319.2" stroke="#000" stroke-width="1.4" stroke-dasharray="5.2,4.2"/>
<line x1="99.5" y1="285.6" x2="99.5" y2="319.2" stroke="#000" stroke-width="1.4" stroke-dasharray="5.2,4.2" stroke-dashoffset="2.6"/>
<line x1="691" y1="285.6" x2="691" y2="319.2" stroke="#000" stroke-width="1.4" stroke-dasharray="5.2,4.2" stroke-dashoffset="2.6"/>
<line x1="194.3" y1="285.6" x2="194.3" y2="319.2" stroke="#000" stroke-width="1.4" stroke-dasharray="5.2,4.2" stroke-dashoffset="2.6"/>
<line x1="581.3" y1="285.6" x2="581.3" y2="319.2" stroke="#000" stroke-width="1.4" stroke-dasharray="5.2,4.2" stroke-dashoffset="2.6"/>
<text x="149.3" y="308.3" font-size="14.2" font-weight="normal" fill="#1a1a1a" text-anchor="middle">Non-Mito</text>
<text x="387.9" y="308.3" font-size="14.2" font-weight="normal" fill="#1a1a1a" text-anchor="middle">CIV + Asc OX</text>
<text x="632.4" y="308.3" font-size="14.2" font-weight="normal" fill="#1a1a1a" text-anchor="middle">Asc OX</text>
<g clip-path="url(#clipB)">
<polyline points="101.7,425 102.93,425.07 104.17,425.16 105.4,425.22 106.63,425.27 107.87,425.48 109.1,425.62 110.33,425.95 111.57,425.76 112.8,426.18 114.03,426.02 115.27,426.19 116.5,426.47 117.73,426.58 118.97,426.55 120.2,426.53 121.43,426.79 122.67,426.87 123.9,427.18 125.13,427.03 126.37,427.2 127.6,427.51 128.83,427.31 130.07,427.56 131.3,427.7 132.5,427.91 133.71,428 134.91,427.83 136.12,427.93 137.32,428.04 138.52,428.45 139.73,428.31 140.93,428.59 142.13,428.74 143.34,428.64 144.54,428.72 145.75,429.06 146.95,429.04 148.15,429.01 149.36,429.28 150.56,429.23 151.77,429.32 152.97,429.32 154.17,429.69 155.38,429.85 156.58,429.85 157.78,430.06 158.99,429.83 160.19,430 161.4,430.19 162.6,430.3 163.84,430.58 165.07,430.69 166.31,430.6 167.55,430.67 168.79,430.85 170.02,430.99 171.26,431.26 172.5,431.1 173.73,431.44 174.97,431.53 176.21,431.68 177.44,431.78 178.68,431.83 179.92,431.85 181.16,431.96 182.39,432.09 183.63,432.35 184.87,432.22 186.1,432.37 187.34,432.69 188.58,432.62 189.81,432.67 191.05,432.77 192.29,433.07 193.53,433.11 194.76,433.46 196,433.4 197.38,433.7 198.77,433.91 200.15,433.82 201.53,433.92 202.92,434.09 204.3,434.4 205.9,434.93 207.5,435.54 209.1,436 210.6,431.3 212.2,426.65 213.8,422 215.37,418.31 216.93,414.57 218.5,411 220.07,408.87 221.63,406.84 223.2,404.7 224.44,403.68 225.68,402.63 226.92,401.58 228.16,400.44 229.4,399.3 230.72,398.56 232.03,398.22 233.35,397.43 234.67,396.92 235.98,396.25 237.3,395.7 238.63,395.47 239.96,394.96 241.29,394.67 242.61,394.35 243.94,394 245.27,393.95 246.6,393.5 247.82,393.38 249.04,393.15 250.27,393.03 251.49,393.1 252.71,392.78 253.93,392.54 255.16,392.6 256.38,392.4 257.6,392.2 258.82,392.24 260.04,391.79 261.27,391.79 262.49,391.78 263.71,391.66 264.93,391.55 266.16,391.1 267.38,391.06 268.6,391 269.87,390.8 271.15,390.76 272.42,390.98 273.69,390.78 274.96,390.84 276.24,390.57 277.51,390.69 278.78,390.47 280.05,390.34 281.33,390.46 282.6,390.3 283.88,390.46 285.16,390.16 286.45,390.33 287.73,390.34 289.01,390.2 290.29,390.25 291.57,390.17 292.85,390.19 294.14,390.21 295.42,390.34 296.7,390.3 297.92,390.33 299.14,390.14 300.36,390.04 301.58,390.13 302.8,390.23 304.02,390.03 305.24,390.05 306.46,389.98 307.68,390.17 308.9,390.05 310.12,389.85 311.34,389.84 312.56,389.92 313.78,389.94 315,389.9 316.2,389.94 317.41,389.72 318.61,389.74 319.82,389.91 321.02,389.8 322.22,389.74 323.43,389.73 324.63,389.95 325.84,389.71 327.04,389.78 328.24,389.69 329.45,389.7 330.65,389.85 331.86,389.88 333.06,389.64 334.26,389.57 335.47,389.74 336.67,389.54 337.88,389.46 339.08,389.76 340.28,389.58 341.49,389.71 342.69,389.54 343.9,389.7 345.1,389.54 346.3,389.41 347.51,389.35 348.71,389.53 349.92,389.54 351.12,389.63 352.32,389.32 353.53,389.5 354.73,389.39 355.94,389.43 357.14,389.28 358.34,389.32 359.55,389.39 360.75,389.52 361.96,389.21 363.16,389.34 364.36,389.44 365.57,389.48 366.77,389.19 367.98,389.15 369.18,389.43 370.38,389.43 371.59,389.24 372.79,389.07 374,389.37 375.2,389.2 376.44,389.16 377.68,389.35 378.92,389.24 380.16,389.32 381.4,389.08 382.64,389.3 383.88,389.1 385.12,389.17 386.36,389.32 387.6,389.32 388.84,389.09 390.08,389.1 391.32,389.16 392.56,389.21 393.8,389.16 395.04,389.06 396.28,389.11 397.52,389.28 398.76,389.34 400,389.2 401.25,389.11 402.5,389.38 403.75,389.53 405,389.35 406.25,389.72 407.5,389.54 408.75,389.8 410,389.86 411.25,389.97 412.5,390 413.9,389.68 415.3,389.47 416.7,389.28 418.1,388.97 419.5,388.81 420.9,388.5 422.11,388.48 423.33,388.48 424.54,388.33 425.75,388.54 426.96,388.5 428.18,388.4 429.39,388.59 430.6,388.6 431.81,388.48 433.03,388.38 434.24,388.49 435.45,388.36 436.67,388.37 437.88,388.48 439.09,388.35 440.3,388.48 441.52,388.5 442.73,388.33 443.94,388.55 445.15,388.35 446.37,388.58 447.58,388.6 448.79,388.5 450.01,388.34 451.22,388.5 452.43,388.46 453.64,388.66 454.86,388.37 456.07,388.63 457.28,388.68 458.49,388.58 459.71,388.61 460.92,388.39 462.13,388.67 463.35,388.5 464.56,388.66 465.77,388.65 466.98,388.38 468.2,388.6 469.41,388.66 470.62,388.34 471.83,388.45 473.05,388.59 474.26,388.38 475.47,388.64 476.69,388.42 477.9,388.61 479.11,388.37 480.32,388.5 481.54,388.65 482.75,388.39 483.96,388.41 485.17,388.5 486.39,388.43 487.6,388.5 488.85,388.39 490.1,388.5 491.35,388.54 492.6,388.88 493.85,388.84 495.1,388.97 496.35,388.77 497.6,389.04 498.85,388.86 500.1,389.06 501.35,389.15 502.6,389.11 503.85,389.35 505.1,389.29 506.35,389.35 507.6,389.52 508.85,389.29 510.1,389.67 511.35,389.59 512.6,389.6 513.83,390.46 515.05,391.51 516.27,392.22 517.5,393.2 518.87,394.94 520.23,396.36 521.6,397.9 522.81,398.92 524.03,400.15 525.24,401.1 526.46,402.08 527.67,403.36 528.89,404.19 530.1,405.54 531.32,406.41 532.53,407.63 533.75,408.82 534.96,409.76 536.17,410.86 537.39,411.81 538.6,412.77 539.82,413.86 541.03,414.97 542.25,416.22 543.46,417.23 544.68,418.33 545.89,419.54 547.11,420.34 548.32,421.45 549.54,422.68 550.75,423.53 551.96,424.6 553.18,425.8 554.39,426.78 555.61,427.95 556.82,428.98 558.04,430.18 559.25,431.26 560.47,432.19 561.68,433.42 562.9,434.44 564.11,435.39 565.33,436.76 566.54,437.58 567.75,438.62 568.97,439.68 570.18,440.95 571.4,442.11 572.61,443.15 573.83,444.09 575.04,445.12 576.26,446.1 577.47,447.4 578.69,448.45 579.9,449.5 581.27,450.58 582.63,451.82 584,452.9 585.48,452.45 586.95,452.21 588.42,451.71 589.9,451.2 591.17,451.52 592.44,452.17 593.71,452.27 594.98,452.85 596.25,453.22 597.52,453.57 598.79,453.91 600.06,454.58 601.33,454.71 602.6,455.3 603.82,455.68 605.05,456.19 606.27,456.27 607.49,456.65 608.72,457.16 609.94,457.49 611.16,457.9 612.39,458.33 613.61,458.47 614.84,458.88 616.06,459.24 617.28,459.51 618.51,460.18 619.73,460.51 620.95,460.85 622.18,460.96 623.4,461.5 624.6,461.95 625.81,462.23 627.01,462.46 628.22,462.88 629.42,463.1 630.62,463.34 631.83,463.62 633.03,463.99 634.23,464.24 635.44,464.67 636.64,465.14 637.85,465.45 639.05,465.82 640.25,466.1 641.46,466.26 642.66,466.69 643.87,466.97 645.07,467.42 646.27,467.65 647.48,467.88 648.68,468.34 649.88,468.78 651.09,468.83 652.29,469.39 653.5,469.4 654.7,469.9 655.92,470.1 657.15,470.38 658.37,470.85 659.6,471.2 660.82,471.42 662.04,471.55 663.27,472.04 664.49,472.13 665.72,472.38 666.94,472.91 668.17,473.1 669.39,473.4 670.61,473.68 671.84,474.08 673.06,474.18 674.29,474.6 675.51,474.84 676.73,475.18 677.96,475.32 679.18,475.71 680.41,475.94 681.63,476.13 682.86,476.38 684.08,476.81 685.3,476.9 686.53,477.49 687.75,477.5 688.98,477.74 690.2,478.2" fill="none" stroke="#0000f5" stroke-width="1.9" stroke-linejoin="round" stroke-linecap="round"/>
<polyline points="101.7,425.6 102.93,425.67 104.17,425.76 105.4,425.82 106.63,425.87 107.87,426.08 109.1,426.22 110.33,426.55 111.57,426.36 112.8,426.78 114.03,426.62 115.27,426.79 116.5,427.07 117.73,427.18 118.97,427.15 120.2,427.13 121.43,427.39 122.67,427.47 123.9,427.78 125.13,427.63 126.37,427.8 127.6,428.11 128.83,427.91 130.07,428.16 131.3,428.3 132.5,428.51 133.71,428.6 134.91,428.43 136.12,428.53 137.32,428.64 138.52,429.05 139.73,428.91 140.93,429.19 142.13,429.34 143.34,429.24 144.54,429.32 145.75,429.66 146.95,429.64 148.15,429.61 149.36,429.88 150.56,429.83 151.77,429.92 152.97,429.92 154.17,430.29 155.38,430.45 156.58,430.45 157.78,430.66 158.99,430.43 160.19,430.6 161.4,430.79 162.6,430.9 163.84,431.18 165.07,431.29 166.31,431.2 167.55,431.27 168.79,431.45 170.02,431.59 171.26,431.86 172.5,431.7 173.73,432.04 174.97,432.13 176.21,432.28 177.44,432.38 178.68,432.43 179.92,432.45 181.16,432.56 182.39,432.69 183.63,432.95 184.87,432.82 186.1,432.97 187.34,433.29 188.58,433.22 189.81,433.27 191.05,433.37 192.29,433.67 193.53,433.71 194.76,434.06 196,434 197.38,434.3 198.77,434.51 200.15,434.42 201.53,434.52 202.92,434.69 204.3,435 205.9,435.53 207.5,436.14 209.1,436.6 210.6,431.9 212.2,427.25 213.8,422.6 215.37,418.91 216.93,415.17 218.5,411.6 220.07,409.47 221.63,407.44 223.2,405.3 224.44,404.28 225.68,403.23 226.92,402.18 228.16,401.04 229.4,399.9 230.72,399.16 232.03,398.82 233.35,398.03 234.67,397.52 235.98,396.85 237.3,396.3 238.63,396.07 239.96,395.56 241.29,395.27 242.61,394.95 243.94,394.6 245.27,394.55 246.6,394.1 247.82,393.98 249.04,393.75 250.27,393.63 251.49,393.7 252.71,393.38 253.93,393.14 255.16,393.2 256.38,393 257.6,392.8 258.82,392.84 260.04,392.39 261.27,392.39 262.49,392.38 263.71,392.26 264.93,392.15 266.16,391.7 267.38,391.66 268.6,391.6 269.87,391.4 271.15,391.36 272.42,391.58 273.69,391.38 274.96,391.44 276.24,391.17 277.51,391.29 278.78,391.07 280.05,390.94 281.33,391.06 282.6,390.9 283.88,391.06 285.16,390.76 286.45,390.93 287.73,390.94 289.01,390.8 290.29,390.85 291.57,390.77 292.85,390.79 294.14,390.81 295.42,390.94 296.7,390.9 297.92,390.93 299.14,390.74 300.36,390.64 301.58,390.73 302.8,390.83 304.02,390.63 305.24,390.65 306.46,390.58 307.68,390.77 308.9,390.65 310.12,390.45 311.34,390.44 312.56,390.52 313.78,390.54 315,390.5 316.2,390.54 317.41,390.32 318.61,390.34 319.82,390.51 321.02,390.4 322.22,390.34 323.43,390.33 324.63,390.55 325.84,390.31 327.04,390.38 328.24,390.29 329.45,390.3 330.65,390.45 331.86,390.48 333.06,390.24 334.26,390.17 335.47,390.34 336.67,390.14 337.88,390.06 339.08,390.36 340.28,390.18 341.49,390.31 342.69,390.14 343.9,390.3 345.1,390.14 346.3,390.01 347.51,389.95 348.71,390.13 349.92,390.14 351.12,390.23 352.32,389.92 353.53,390.1 354.73,389.99 355.94,390.03 357.14,389.88 358.34,389.92 359.55,389.99 360.75,390.12 361.96,389.81 363.16,389.94 364.36,390.04 365.57,390.08 366.77,389.79 367.98,389.75 369.18,390.03 370.38,390.03 371.59,389.84 372.79,389.67 374,389.97 375.2,389.8 376.44,389.76 377.68,389.95 378.92,389.84 380.16,389.92 381.4,389.68 382.64,389.9 383.88,389.7 385.12,389.77 386.36,389.92 387.6,389.92 388.84,389.69 390.08,389.7 391.32,389.76 392.56,389.81 393.8,389.76 395.04,389.66 396.28,389.71 397.52,389.88 398.76,389.94 400,389.8 401.25,389.71 402.5,389.98 403.75,390.13 405,389.95 406.25,390.32 407.5,390.14 408.75,390.4 410,390.46 411.25,390.57 412.5,390.6 413.9,390.28 415.3,390.07 416.7,389.88 418.1,389.57 419.5,389.41 420.9,389.1 422.11,389.08 423.33,389.08 424.54,388.93 425.75,389.14 426.96,389.1 428.18,389 429.39,389.19 430.6,389.2 431.81,389.08 433.03,388.98 434.24,389.09 435.45,388.96 436.67,388.97 437.88,389.08 439.09,388.95 440.3,389.08 441.52,389.1 442.73,388.93 443.94,389.15 445.15,388.95 446.37,389.18 447.58,389.2 448.79,389.1 450.01,388.94 451.22,389.1 452.43,389.06 453.64,389.26 454.86,388.97 456.07,389.23 457.28,389.28 458.49,389.18 459.71,389.21 460.92,388.99 462.13,389.27 463.35,389.1 464.56,389.26 465.77,389.25 466.98,388.98 468.2,389.2 469.41,389.26 470.62,388.94 471.83,389.05 473.05,389.19 474.26,388.98 475.47,389.24 476.69,389.02 477.9,389.21 479.11,388.97 480.32,389.1 481.54,389.25 482.75,388.99 483.96,389.01 485.17,389.1 486.39,389.03 487.6,389.1 488.85,388.99 490.1,389.1 491.35,389.14 492.6,389.48 493.85,389.44 495.1,389.57 496.35,389.37 497.6,389.64 498.85,389.46 500.1,389.66 501.35,389.75 502.6,389.71 503.85,389.95 505.1,389.89 506.35,389.95 507.6,390.12 508.85,389.89 510.1,390.27 511.35,390.19 512.6,390.2 513.83,391.06 515.05,392.11 516.27,392.82 517.5,393.8 518.87,395.54 520.23,396.96 521.6,398.5 522.81,399.52 524.03,400.75 525.24,401.7 526.46,402.68 527.67,403.96 528.89,404.79 530.1,406.14 531.32,407.01 532.53,408.23 533.75,409.42 534.96,410.36 536.17,411.46 537.39,412.41 538.6,413.37 539.82,414.46 541.03,415.57 542.25,416.82 543.46,417.83 544.68,418.93 545.89,420.14 547.11,420.94 548.32,422.05 549.54,423.28 550.75,424.13 551.96,425.2 553.18,426.4 554.39,427.38 555.61,428.55 556.82,429.58 558.04,430.78 559.25,431.86 560.47,432.79 561.68,434.02 562.9,435.04 564.11,435.99 565.33,437.36 566.54,438.18 567.75,439.22 568.97,440.28 570.18,441.55 571.4,442.71 572.61,443.75 573.83,444.69 575.04,445.72 576.26,446.7 577.47,448 578.69,449.05 579.9,450.1 581.27,451.18 582.63,452.42 584,453.5 585.48,453.05 586.95,452.81 588.42,452.31 589.9,451.8 591.17,452.12 592.44,452.77 593.71,452.87 594.98,453.45 596.25,453.82 597.52,454.17 598.79,454.51 600.06,455.18 601.33,455.31 602.6,455.9 603.82,456.28 605.05,456.79 606.27,456.87 607.49,457.25 608.72,457.76 609.94,458.09 611.16,458.5 612.39,458.93 613.61,459.07 614.84,459.48 616.06,459.84 617.28,460.11 618.51,460.78 619.73,461.11 620.95,461.45 622.18,461.56 623.4,462.1 624.6,462.55 625.81,462.83 627.01,463.06 628.22,463.48 629.42,463.7 630.62,463.94 631.83,464.22 633.03,464.59 634.23,464.84 635.44,465.27 636.64,465.74 637.85,466.05 639.05,466.42 640.25,466.7 641.46,466.86 642.66,467.29 643.87,467.57 645.07,468.02 646.27,468.25 647.48,468.48 648.68,468.94 649.88,469.38 651.09,469.43 652.29,469.99 653.5,470 654.7,470.5 655.92,470.7 657.15,470.98 658.37,471.45 659.6,471.8 660.82,472.02 662.04,472.15 663.27,472.64 664.49,472.73 665.72,472.98 666.94,473.51 668.17,473.7 669.39,474 670.61,474.28 671.84,474.68 673.06,474.78 674.29,475.2 675.51,475.44 676.73,475.78 677.96,475.92 679.18,476.31 680.41,476.54 681.63,476.73 682.86,476.98 684.08,477.41 685.3,477.5 686.53,478.09 687.75,478.1 688.98,478.34 690.2,478.8" fill="none" stroke="#0000f5" stroke-width="1.9" stroke-linejoin="round" stroke-linecap="round"/>
<polyline points="101.7,456.95 102.91,456.6 104.12,457.23 105.34,456.73 106.55,456.53 107.76,456.41 108.97,456.38 110.18,456.87 111.4,456.79 112.61,456.81 113.82,456.81 115.03,456.24 116.25,456.62 117.46,456.41 118.67,456.74 119.88,456.71 121.09,456.73 122.31,456.04 123.52,456.64 124.73,456.65 125.94,456.64 127.15,455.94 128.37,455.98 129.58,455.87 130.79,455.78 132,456.39 133.22,456.33 134.43,456.16 135.64,456.28 136.85,456.09 138.06,455.78 139.28,455.6 140.49,455.56 141.7,455.85 142.91,456.06 144.11,455.61 145.32,455.71 146.53,455.79 147.73,455.47 148.94,455.66 150.15,455.68 151.35,456.02 152.56,455.74 153.77,455.71 154.97,456.22 156.18,455.85 157.39,456.13 158.59,455.94 159.8,455.47 161.01,455.78 162.21,455.8 163.42,456.07 164.63,455.73 165.83,456.01 167.04,455.88 168.25,455.62 169.45,456.14 170.66,455.52 171.87,456.11 173.07,455.59 174.28,455.45 175.49,455.61 176.69,456.06 177.9,456.23 179.11,455.45 180.31,455.84 181.52,455.84 182.73,456.09 183.93,455.6 185.14,455.85 186.35,455.73 187.55,456.12 188.76,455.66 189.97,456.21 191.17,455.68 192.38,455.62 193.59,456.01 194.79,455.85 196,455.85 197.24,455.54 198.48,455.96 199.72,455.51 200.96,456.08 202.2,455.85 203.75,452.36 205.3,448.55 206.9,442.85 208.5,437.15 210.6,444.45 212.6,475.65 213.7,486.25" fill="none" stroke="#ff0000" stroke-width="2" stroke-linejoin="round" stroke-linecap="round"/>
<polyline points="101.7,458.45 102.91,458.1 104.12,458.73 105.34,458.23 106.55,458.03 107.76,457.91 108.97,457.88 110.18,458.37 111.4,458.29 112.61,458.31 113.82,458.31 115.03,457.74 116.25,458.12 117.46,457.91 118.67,458.24 119.88,458.21 121.09,458.23 122.31,457.54 123.52,458.14 124.73,458.15 125.94,458.14 127.15,457.44 128.37,457.48 129.58,457.37 130.79,457.28 132,457.89 133.22,457.83 134.43,457.66 135.64,457.78 136.85,457.59 138.06,457.28 139.28,457.1 140.49,457.06 141.7,457.35 142.91,457.56 144.11,457.11 145.32,457.21 146.53,457.29 147.73,456.97 148.94,457.16 150.15,457.18 151.35,457.52 152.56,457.24 153.77,457.21 154.97,457.72 156.18,457.35 157.39,457.63 158.59,457.44 159.8,456.97 161.01,457.28 162.21,457.3 163.42,457.57 164.63,457.23 165.83,457.51 167.04,457.38 168.25,457.12 169.45,457.64 170.66,457.02 171.87,457.61 173.07,457.09 174.28,456.95 175.49,457.11 176.69,457.56 177.9,457.73 179.11,456.95 180.31,457.34 181.52,457.34 182.73,457.59 183.93,457.1 185.14,457.35 186.35,457.23 187.55,457.62 188.76,457.16 189.97,457.71 191.17,457.18 192.38,457.12 193.59,457.51 194.79,457.35 196,457.35 197.24,457.04 198.48,457.46 199.72,457.01 200.96,457.58 202.2,457.35 203.75,453.86 205.3,450.05 206.9,444.35 208.5,438.65 210.6,445.95 212.6,477.15 213.7,487.75" fill="none" stroke="#ff0000" stroke-width="2" stroke-linejoin="round" stroke-linecap="round"/>
<polyline points="262.5,486.25 263.92,485.08 265.34,483.55 266.76,481.93 268.18,480.57 269.6,479.25 270.9,478.54 272.2,478.31 273.5,477.04 274.8,476.75 276.08,477.11 277.36,476.46 278.63,476.65 279.91,476.74 281.19,477.29 282.47,477.02 283.74,476.96 285.02,477.41 286.3,477.15 287.6,476.62 288.9,476.49 290.2,476.24 291.5,476.1 292.8,475.79 294.1,475.39 295.4,474.84 296.7,474.65 298,474.17 299.3,473.7 300.6,473.91 301.9,473.43 303.2,473.16 304.5,472.36 305.8,472.24 307.1,471.95 308.41,471.99 309.73,471.66 311.04,471.13 312.35,471.22 313.66,471.38 314.98,470.69 316.29,470.48 317.6,470.55 318.9,470.23 320.2,470.39 321.5,470.34 322.8,469.62 324.1,469.46 325.4,469.37 326.7,469.27 328,469.25 329.22,469.27 330.43,468.98 331.65,469.11 332.87,469 334.08,469.63 335.3,469.43 336.52,468.93 337.73,469.62 338.95,468.93 340.17,469.16 341.38,469.64 342.6,469.25 344,469.94 345.4,470.34 346.8,470.55 348.2,470.81 349.6,471.61 351,471.95 352.38,471.75 353.77,471.95 355.15,472.21 356.53,472.04 357.92,472.45 359.3,472.65 360.55,472.6 361.8,472.24 363.05,471.81 364.3,471.64 365.55,471.22 366.8,470.68 368.05,470.77 369.3,470.33 370.55,470.32 371.8,469.85 373.2,470.29 374.6,470.03 376,470.26 377.4,470.52 378.8,470.37 380.2,470.55 381.5,470.17 382.8,470.4 384.1,470.37 385.4,470.12 386.7,469.9 388,469.86 389.3,469.56 390.6,469.25 391.9,469.19 393.2,468.86 394.5,468.58 395.8,468.65 397.1,468.05 398.4,468.14 399.7,468.25 401,467.85 402.27,468.01 403.54,467.93 404.81,467.61 406.09,467.73 407.36,467.74 408.63,467.86 409.9,467.68 411.17,467.88 412.44,468.07 413.71,467.45 414.99,467.82 416.26,467.9 417.53,467.58 418.8,467.65 420.05,468.24 421.3,469.23 422.55,469.08 423.8,470.08 425.05,470.38 426.3,471.48 427.55,472.2 428.8,472.47 430.05,472.73 431.3,473.65 432.55,473.54 433.81,473.35 435.06,473.32 436.31,472.99 437.57,472.93 438.82,472.91 440.07,472.5 441.33,472.24 442.58,472.51 443.83,471.75 445.09,471.96 446.34,471.56 447.59,471.69 448.85,471.01 450.1,471.15 451.48,470.97 452.87,469.9 454.25,469.1 455.63,468.7 457.02,468.24 458.4,467.75 459.65,467.24 460.9,467.43 462.15,467.31 463.4,467.41 464.65,467.01 465.9,466.81 467.15,466.65 468.4,466.94 469.65,466.98 470.9,466.52 472.15,466.15 473.4,466.49 474.65,466.04 475.9,465.77 477.15,465.58 478.4,465.97 479.65,465.87 480.9,465.61 482.15,465.35 483.4,465.25 484.68,465.22 485.97,464.88 487.25,465.39 488.54,464.82 489.82,464.98 491.11,465.04 492.39,464.96 493.68,464.61 494.96,464.39 496.25,464.52 497.53,464.1 498.82,464.59 500.1,464.25 501.42,464.23 502.74,464.73 504.06,464.36 505.38,464.55 506.7,464.55 508.02,464.79 509.34,464.7 510.66,464.65 511.98,465.33 513.3,465.25 515,459.05 516.65,444.1 518.3,429.15 519.67,415.28 521.03,401.42 522.4,387.55 523.8,376.45 525.2,365.35 526.6,354.25 527.85,348.4 529.1,342.55 530.35,341.12 531.6,340.05 532.94,340.51 534.28,341.21 535.62,342.01 536.96,342.63 538.3,343.35 539.58,344.04 540.85,344.63 542.13,344.97 543.41,346 544.68,346.52 545.96,346.46 547.24,347.65 548.52,348.29 549.79,348.77 551.07,348.83 552.35,349.96 553.62,350.38 554.9,350.85 556.19,351.12 557.48,351.77 558.77,353.18 560.06,353.6 561.34,353.93 562.63,354.46 563.92,355.15 565.21,355.88 566.5,356.75 567.72,357.65 568.94,357.99 570.15,358.52 571.37,359.8 572.59,360.39 573.81,360.58 575.03,361.84 576.25,362.29 577.46,363.11 578.68,363.7 579.9,364.25 581.27,364.83 582.63,365.01 584,365.05 585.25,367.37 586.5,369.15 587.75,376.65 589,384.15 590.25,394.15 591.5,404.15 592.75,414.95 594,425.75 595.7,442.45 597.3,455.75 598.8,458.85 600.15,454.75 601.5,450.65 603.1,443.72 604.7,436.78 606.3,429.85 607.55,428.56 608.8,427.75 610.02,427.99 611.23,427.94 612.45,428.19 613.67,428.03 614.88,428.47 616.1,428.29 617.32,428.14 618.53,428.2 619.75,428.21 620.97,428.58 622.18,428.31 623.4,428.75 624.6,428.84 625.81,428.7 627.01,429.1 628.22,429.23 629.42,429.38 630.62,429.76 631.83,429.19 633.03,429.98 634.23,429.8 635.44,429.99 636.64,430.19 637.85,430.45 639.05,430.2 640.25,430.35 641.46,430.91 642.66,430.32 643.87,430.89 645.07,431.01 646.27,430.64 647.48,431.22 648.68,431.4 649.88,431.72 651.09,431.36 652.29,432 653.5,431.74 654.7,431.85 655.92,432 657.15,432.49 658.37,431.95 659.6,432.66 660.82,432.74 662.04,432.67 663.27,433.25 664.49,433.01 665.72,433.26 666.94,433.46 668.17,433.81 669.39,433.52 670.61,433.86 671.84,434.01 673.06,434.27 674.29,434.65 675.51,434.38 676.73,434.97 677.96,434.79 679.18,435.03 680.41,435 681.63,435.34 682.86,435.88 684.08,435.78 685.3,436.05 686.53,435.84 687.75,435.99 688.98,436.13 690.2,436.45" fill="none" stroke="#ff0000" stroke-width="2" stroke-linejoin="round" stroke-linecap="round"/>
<polyline points="262.5,487.75 263.92,486.58 265.34,485.05 266.76,483.43 268.18,482.07 269.6,480.75 270.9,480.04 272.2,479.81 273.5,478.54 274.8,478.25 276.08,478.61 277.36,477.96 278.63,478.15 279.91,478.24 281.19,478.79 282.47,478.52 283.74,478.46 285.02,478.91 286.3,478.65 287.6,478.12 288.9,477.99 290.2,477.74 291.5,477.6 292.8,477.29 294.1,476.89 295.4,476.34 296.7,476.15 298,475.67 299.3,475.2 300.6,475.41 301.9,474.93 303.2,474.66 304.5,473.86 305.8,473.74 307.1,473.45 308.41,473.49 309.73,473.16 311.04,472.63 312.35,472.72 313.66,472.88 314.98,472.19 316.29,471.98 317.6,472.05 318.9,471.73 320.2,471.89 321.5,471.84 322.8,471.12 324.1,470.96 325.4,470.87 326.7,470.77 328,470.75 329.22,470.77 330.43,470.48 331.65,470.61 332.87,470.5 334.08,471.13 335.3,470.93 336.52,470.43 337.73,471.12 338.95,470.43 340.17,470.66 341.38,471.14 342.6,470.75 344,471.44 345.4,471.84 346.8,472.05 348.2,472.31 349.6,473.11 351,473.45 352.38,473.25 353.77,473.45 355.15,473.71 356.53,473.54 357.92,473.95 359.3,474.15 360.55,474.1 361.8,473.74 363.05,473.31 364.3,473.14 365.55,472.72 366.8,472.18 368.05,472.27 369.3,471.83 370.55,471.82 371.8,471.35 373.2,471.79 374.6,471.53 376,471.76 377.4,472.02 378.8,471.87 380.2,472.05 381.5,471.67 382.8,471.9 384.1,471.87 385.4,471.62 386.7,471.4 388,471.36 389.3,471.06 390.6,470.75 391.9,470.69 393.2,470.36 394.5,470.08 395.8,470.15 397.1,469.55 398.4,469.64 399.7,469.75 401,469.35 402.27,469.51 403.54,469.43 404.81,469.11 406.09,469.23 407.36,469.24 408.63,469.36 409.9,469.18 411.17,469.38 412.44,469.57 413.71,468.95 414.99,469.32 416.26,469.4 417.53,469.08 418.8,469.15 420.05,469.74 421.3,470.73 422.55,470.58 423.8,471.58 425.05,471.88 426.3,472.98 427.55,473.7 428.8,473.97 430.05,474.23 431.3,475.15 432.55,475.04 433.81,474.85 435.06,474.82 436.31,474.49 437.57,474.43 438.82,474.41 440.07,474 441.33,473.74 442.58,474.01 443.83,473.25 445.09,473.46 446.34,473.06 447.59,473.19 448.85,472.51 450.1,472.65 451.48,472.47 452.87,471.4 454.25,470.6 455.63,470.2 457.02,469.74 458.4,469.25 459.65,468.74 460.9,468.93 462.15,468.81 463.4,468.91 464.65,468.51 465.9,468.31 467.15,468.15 468.4,468.44 469.65,468.48 470.9,468.02 472.15,467.65 473.4,467.99 474.65,467.54 475.9,467.27 477.15,467.08 478.4,467.47 479.65,467.37 480.9,467.11 482.15,466.85 483.4,466.75 484.68,466.72 485.97,466.38 487.25,466.89 488.54,466.32 489.82,466.48 491.11,466.54 492.39,466.46 493.68,466.11 494.96,465.89 496.25,466.02 497.53,465.6 498.82,466.09 500.1,465.75 501.42,465.73 502.74,466.23 504.06,465.86 505.38,466.05 506.7,466.05 508.02,466.29 509.34,466.2 510.66,466.15 511.98,466.83 513.3,466.75 515,460.55 516.65,445.6 518.3,430.65 519.67,416.78 521.03,402.92 522.4,389.05 523.8,377.95 525.2,366.85 526.6,355.75 527.85,349.9 529.1,344.05 530.35,342.62 531.6,341.55 532.94,342.01 534.28,342.71 535.62,343.51 536.96,344.13 538.3,344.85 539.58,345.54 540.85,346.13 542.13,346.47 543.41,347.5 544.68,348.02 545.96,347.96 547.24,349.15 548.52,349.79 549.79,350.27 551.07,350.33 552.35,351.46 553.62,351.88 554.9,352.35 556.19,352.62 557.48,353.27 558.77,354.68 560.06,355.1 561.34,355.43 562.63,355.96 563.92,356.65 565.21,357.38 566.5,358.25 567.72,359.15 568.94,359.49 570.15,360.02 571.37,361.3 572.59,361.89 573.81,362.08 575.03,363.34 576.25,363.79 577.46,364.61 578.68,365.2 579.9,365.75 581.27,366.33 582.63,366.51 584,366.55 585.25,368.87 586.5,370.65 587.75,378.15 589,385.65 590.25,395.65 591.5,405.65 592.75,416.45 594,427.25 595.7,443.95 597.3,457.25 598.8,460.35 600.15,456.25 601.5,452.15 603.1,445.22 604.7,438.28 606.3,431.35 607.55,430.06 608.8,429.25 610.02,429.49 611.23,429.44 612.45,429.69 613.67,429.53 614.88,429.97 616.1,429.79 617.32,429.64 618.53,429.7 619.75,429.71 620.97,430.08 622.18,429.81 623.4,430.25 624.6,430.34 625.81,430.2 627.01,430.6 628.22,430.73 629.42,430.88 630.62,431.26 631.83,430.69 633.03,431.48 634.23,431.3 635.44,431.49 636.64,431.69 637.85,431.95 639.05,431.7 640.25,431.85 641.46,432.41 642.66,431.82 643.87,432.39 645.07,432.51 646.27,432.14 647.48,432.72 648.68,432.9 649.88,433.22 651.09,432.86 652.29,433.5 653.5,433.24 654.7,433.35 655.92,433.5 657.15,433.99 658.37,433.45 659.6,434.16 660.82,434.24 662.04,434.17 663.27,434.75 664.49,434.51 665.72,434.76 666.94,434.96 668.17,435.31 669.39,435.02 670.61,435.36 671.84,435.51 673.06,435.77 674.29,436.15 675.51,435.88 676.73,436.47 677.96,436.29 679.18,436.53 680.41,436.5 681.63,436.84 682.86,437.38 684.08,437.28 685.3,437.55 686.53,437.34 687.75,437.49 688.98,437.63 690.2,437.95" fill="none" stroke="#ff0000" stroke-width="2" stroke-linejoin="round" stroke-linecap="round"/>
</g>
<line x1="101.3" y1="323" x2="101.3" y2="485.2" stroke="#000" stroke-width="1.5"/>
<line x1="101.3" y1="474.4" x2="98.3" y2="474.4" stroke="#000" stroke-width="1.5"/>
<text x="96.8" y="479.6" font-size="14.5" font-weight="bold" fill="#000" text-anchor="end">60</text>
<line x1="101.3" y1="441.5" x2="98.3" y2="441.5" stroke="#000" stroke-width="1.5"/>
<text x="96.8" y="446.7" font-size="14.5" font-weight="bold" fill="#000" text-anchor="end">90</text>
<line x1="101.3" y1="408.6" x2="98.3" y2="408.6" stroke="#000" stroke-width="1.5"/>
<text x="96.8" y="413.8" font-size="14.5" font-weight="bold" fill="#000" text-anchor="end">120</text>
<line x1="101.3" y1="375.7" x2="98.3" y2="375.7" stroke="#000" stroke-width="1.5"/>
<text x="96.8" y="380.9" font-size="14.5" font-weight="bold" fill="#000" text-anchor="end">150</text>
<line x1="101.3" y1="342.8" x2="98.3" y2="342.8" stroke="#000" stroke-width="1.5"/>
<text x="96.8" y="348" font-size="14.5" font-weight="bold" fill="#000" text-anchor="end">180</text>
<line x1="101.3" y1="482.62" x2="99.3" y2="482.62" stroke="#000" stroke-width="1.2"/>
<line x1="101.3" y1="466.17" x2="99.3" y2="466.17" stroke="#000" stroke-width="1.2"/>
<line x1="101.3" y1="457.95" x2="99.3" y2="457.95" stroke="#000" stroke-width="1.2"/>
<line x1="101.3" y1="449.72" x2="99.3" y2="449.72" stroke="#000" stroke-width="1.2"/>
<line x1="101.3" y1="433.27" x2="99.3" y2="433.27" stroke="#000" stroke-width="1.2"/>
<line x1="101.3" y1="425.05" x2="99.3" y2="425.05" stroke="#000" stroke-width="1.2"/>
<line x1="101.3" y1="416.82" x2="99.3" y2="416.82" stroke="#000" stroke-width="1.2"/>
<line x1="101.3" y1="400.38" x2="99.3" y2="400.38" stroke="#000" stroke-width="1.2"/>
<line x1="101.3" y1="392.15" x2="99.3" y2="392.15" stroke="#000" stroke-width="1.2"/>
<line x1="101.3" y1="383.92" x2="99.3" y2="383.92" stroke="#000" stroke-width="1.2"/>
<line x1="101.3" y1="367.47" x2="99.3" y2="367.47" stroke="#000" stroke-width="1.2"/>
<line x1="101.3" y1="359.25" x2="99.3" y2="359.25" stroke="#000" stroke-width="1.2"/>
<line x1="101.3" y1="351.02" x2="99.3" y2="351.02" stroke="#000" stroke-width="1.2"/>
<line x1="101.3" y1="334.57" x2="99.3" y2="334.57" stroke="#000" stroke-width="1.2"/>
<line x1="101.3" y1="326.35" x2="99.3" y2="326.35" stroke="#000" stroke-width="1.2"/>
<line x1="691.2" y1="323" x2="691.2" y2="485.2" stroke="#000" stroke-width="1.5"/>
<line x1="691.2" y1="470" x2="694.2" y2="470" stroke="#000" stroke-width="1.5"/>
<text x="694.2" y="475.2" font-size="14.5" font-weight="bold" fill="#000" text-anchor="start">0</text>
<line x1="691.2" y1="437.2" x2="694.2" y2="437.2" stroke="#000" stroke-width="1.5"/>
<text x="694.2" y="442.4" font-size="14.5" font-weight="bold" fill="#000" text-anchor="start">58</text>
<line x1="691.2" y1="404.4" x2="694.2" y2="404.4" stroke="#000" stroke-width="1.5"/>
<text x="694.2" y="409.6" font-size="14.5" font-weight="bold" fill="#000" text-anchor="start">116</text>
<line x1="691.2" y1="371.6" x2="694.2" y2="371.6" stroke="#000" stroke-width="1.5"/>
<text x="694.2" y="376.8" font-size="14.5" font-weight="bold" fill="#000" text-anchor="start">174</text>
<line x1="691.2" y1="338.8" x2="694.2" y2="338.8" stroke="#000" stroke-width="1.5"/>
<text x="694.2" y="344" font-size="14.5" font-weight="bold" fill="#000" text-anchor="start">232</text>
<line x1="691.2" y1="478.2" x2="693.2" y2="478.2" stroke="#000" stroke-width="1.2"/>
<line x1="691.2" y1="461.8" x2="693.2" y2="461.8" stroke="#000" stroke-width="1.2"/>
<line x1="691.2" y1="453.6" x2="693.2" y2="453.6" stroke="#000" stroke-width="1.2"/>
<line x1="691.2" y1="445.4" x2="693.2" y2="445.4" stroke="#000" stroke-width="1.2"/>
<line x1="691.2" y1="429" x2="693.2" y2="429" stroke="#000" stroke-width="1.2"/>
<line x1="691.2" y1="420.8" x2="693.2" y2="420.8" stroke="#000" stroke-width="1.2"/>
<line x1="691.2" y1="412.6" x2="693.2" y2="412.6" stroke="#000" stroke-width="1.2"/>
<line x1="691.2" y1="396.2" x2="693.2" y2="396.2" stroke="#000" stroke-width="1.2"/>
<line x1="691.2" y1="388" x2="693.2" y2="388" stroke="#000" stroke-width="1.2"/>
<line x1="691.2" y1="379.8" x2="693.2" y2="379.8" stroke="#000" stroke-width="1.2"/>
<line x1="691.2" y1="363.4" x2="693.2" y2="363.4" stroke="#000" stroke-width="1.2"/>
<line x1="691.2" y1="355.2" x2="693.2" y2="355.2" stroke="#000" stroke-width="1.2"/>
<line x1="691.2" y1="347" x2="693.2" y2="347" stroke="#000" stroke-width="1.2"/>
<line x1="691.2" y1="330.6" x2="693.2" y2="330.6" stroke="#000" stroke-width="1.2"/>
<line x1="101.3" y1="485.2" x2="691.2" y2="485.2" stroke="#000" stroke-width="1.5"/>
<line x1="132.5" y1="485.2" x2="132.5" y2="491.2" stroke="#000" stroke-width="1.5"/>
<text x="133.5" y="506.5" font-size="14.5" font-weight="bold" fill="#000" text-anchor="middle">1:13</text>
<line x1="230.7" y1="485.2" x2="230.7" y2="491.2" stroke="#000" stroke-width="1.5"/>
<text x="230.1" y="506.5" font-size="14.5" font-weight="bold" fill="#000" text-anchor="middle">1:20</text>
<line x1="328.9" y1="485.2" x2="328.9" y2="491.2" stroke="#000" stroke-width="1.5"/>
<text x="326.4" y="506.5" font-size="14.5" font-weight="bold" fill="#000" text-anchor="middle">1:28</text>
<line x1="427.1" y1="485.2" x2="427.1" y2="491.2" stroke="#000" stroke-width="1.5"/>
<text x="422.2" y="506.5" font-size="14.5" font-weight="bold" fill="#000" text-anchor="middle">1:35</text>
<line x1="525.3" y1="485.2" x2="525.3" y2="491.2" stroke="#000" stroke-width="1.5"/>
<text x="522.3" y="504.7" font-size="14.5" font-weight="bold" fill="#000" text-anchor="middle">1:42</text>
<line x1="623.5" y1="485.2" x2="623.5" y2="491.2" stroke="#000" stroke-width="1.5"/>
<text x="620" y="506.5" font-size="14.5" font-weight="bold" fill="#000" text-anchor="middle">1:50</text>
<line x1="112.86" y1="485.2" x2="112.86" y2="489.2" stroke="#000" stroke-width="1.2"/>
<line x1="152.14" y1="485.2" x2="152.14" y2="489.2" stroke="#000" stroke-width="1.2"/>
<line x1="171.78" y1="485.2" x2="171.78" y2="489.2" stroke="#000" stroke-width="1.2"/>
<line x1="191.42" y1="485.2" x2="191.42" y2="489.2" stroke="#000" stroke-width="1.2"/>
<line x1="211.06" y1="485.2" x2="211.06" y2="489.2" stroke="#000" stroke-width="1.2"/>
<line x1="250.34" y1="485.2" x2="250.34" y2="489.2" stroke="#000" stroke-width="1.2"/>
<line x1="269.98" y1="485.2" x2="269.98" y2="489.2" stroke="#000" stroke-width="1.2"/>
<line x1="289.62" y1="485.2" x2="289.62" y2="489.2" stroke="#000" stroke-width="1.2"/>
<line x1="309.26" y1="485.2" x2="309.26" y2="489.2" stroke="#000" stroke-width="1.2"/>
<line x1="348.54" y1="485.2" x2="348.54" y2="489.2" stroke="#000" stroke-width="1.2"/>
<line x1="368.18" y1="485.2" x2="368.18" y2="489.2" stroke="#000" stroke-width="1.2"/>
<line x1="387.82" y1="485.2" x2="387.82" y2="489.2" stroke="#000" stroke-width="1.2"/>
<line x1="407.46" y1="485.2" x2="407.46" y2="489.2" stroke="#000" stroke-width="1.2"/>
<line x1="446.74" y1="485.2" x2="446.74" y2="489.2" stroke="#000" stroke-width="1.2"/>
<line x1="466.38" y1="485.2" x2="466.38" y2="489.2" stroke="#000" stroke-width="1.2"/>
<line x1="486.02" y1="485.2" x2="486.02" y2="489.2" stroke="#000" stroke-width="1.2"/>
<line x1="505.66" y1="485.2" x2="505.66" y2="489.2" stroke="#000" stroke-width="1.2"/>
<line x1="544.94" y1="485.2" x2="544.94" y2="489.2" stroke="#000" stroke-width="1.2"/>
<line x1="564.58" y1="485.2" x2="564.58" y2="489.2" stroke="#000" stroke-width="1.2"/>
<line x1="584.22" y1="485.2" x2="584.22" y2="489.2" stroke="#000" stroke-width="1.2"/>
<line x1="603.86" y1="485.2" x2="603.86" y2="489.2" stroke="#000" stroke-width="1.2"/>
<line x1="643.14" y1="485.2" x2="643.14" y2="489.2" stroke="#000" stroke-width="1.2"/>
<line x1="662.78" y1="485.2" x2="662.78" y2="489.2" stroke="#000" stroke-width="1.2"/>
<line x1="682.42" y1="485.2" x2="682.42" y2="489.2" stroke="#000" stroke-width="1.2"/>
<text x="401.9" y="530" font-size="14" font-weight="bold" fill="#000" text-anchor="middle">Time [0:44 h:min]</text>
<line x1="195.9" y1="319.2" x2="195.9" y2="339.8" stroke="#000" stroke-width="2"/>
<line x1="195.9" y1="420.1" x2="195.9" y2="485.2" stroke="#000" stroke-width="2"/>
<text x="0" y="0" font-size="13.8" font-weight="normal" fill="#000" text-anchor="middle" transform="translate(198.05,376.85) rotate(-90)">Asc+TMPD</text>
<line x1="581.4" y1="319.2" x2="581.4" y2="406.3" stroke="#000" stroke-width="2"/>
<line x1="579.9" y1="448" x2="579.9" y2="485.2" stroke="#000" stroke-width="2"/>
<text x="0" y="0" font-size="14.1" font-weight="normal" fill="#000" text-anchor="middle" transform="translate(583.65,425.4) rotate(-90)">Azide</text>
<text x="234" y="424.6" font-size="13.9" font-weight="normal" fill="#000" text-anchor="start">Open Chamber</text>
<line x1="231.9" y1="420.4" x2="213.5" y2="432.2" stroke="#000" stroke-width="2"/>
<polygon points="207.6,436 215.8,428.6 218.2,434.2" fill="#000"/>
<text x="485.8" y="424.3" font-size="13.9" font-weight="normal" fill="#000" text-anchor="end">Close Chamber</text>
<line x1="472.6" y1="428.5" x2="487.2" y2="457" stroke="#000" stroke-width="2"/>
<polygon points="490.1,463.5 483.6,456 490.8,453" fill="#000"/>
<text x="0" y="0" font-size="16.6" font-weight="normal" fill="#3553d6" text-anchor="middle" transform="translate(43.5,405.6) rotate(-90)">Oxygen</text>
<text x="0" y="0" font-size="16.8" font-weight="normal" fill="#3553d6" text-anchor="middle" transform="translate(63.5,406.1) rotate(-90)">Concentration [µM]</text>
<text x="0" y="0" font-size="16.9" font-weight="normal" fill="#ff0000" text-anchor="middle" transform="translate(741,402.5) rotate(-90)">O<tspan font-size="11.5" dy="3.5">2</tspan><tspan dy="-3.5"> flux per cells</tspan></text>
<text x="0" y="0" font-size="17" font-weight="normal" fill="#ff0000" text-anchor="middle" transform="translate(762.6,402.7) rotate(-90)">[pmol / (s<tspan font-size="10.5" dy="-6.5">*</tspan><tspan dy="6.5">10</tspan><tspan font-size="11" dy="-6.5">6</tspan><tspan dy="6.5"> cells)]</tspan></text>
<text x="11" y="565.6" font-size="32" font-weight="bold" fill="#000" text-anchor="start">C</text>
<rect x="136.5" y="711.6" width="37.7" height="104.4" fill="#fff" stroke="#000" stroke-width="3"/>
<rect x="193.6" y="737.4" width="36.9" height="78.6" fill="#d4d4d4" stroke="#000" stroke-width="3"/>
<rect x="249.8" y="695.6" width="37.5" height="120.4" fill="#fff" stroke="#000" stroke-width="3"/>
<rect x="306.8" y="724.6" width="37.5" height="91.4" fill="#d4d4d4" stroke="#000" stroke-width="3"/>
<rect x="362.9" y="738" width="37.5" height="78" fill="#fff" stroke="#000" stroke-width="3"/>
<rect x="420.5" y="767.9" width="36.9" height="48.1" fill="#d4d4d4" stroke="#000" stroke-width="3"/>
<rect x="476.2" y="600.3" width="38.1" height="53.5" fill="#fff" stroke="none" stroke-width="1"/>
<rect x="476.2" y="670" width="38.1" height="146" fill="#fff" stroke="none" stroke-width="1"/>
<path d="M476.2,653.8 V600.3 H514.3 V653.8 M476.2,816 V670 M514.3,816 V670" stroke="#000" stroke-width="3" fill="none"/>
<rect x="533.5" y="616.5" width="37.6" height="37.3" fill="#d4d4d4" stroke="none" stroke-width="1"/>
<rect x="533.5" y="670" width="37.6" height="146" fill="#d4d4d4" stroke="none" stroke-width="1"/>
<path d="M533.5,653.8 V616.5 H571.1 V653.8 M533.5,816 V670 M571.1,816 V670" stroke="#000" stroke-width="3" fill="none"/>
<rect x="589.8" y="762" width="37.7" height="54" fill="#fff" stroke="#000" stroke-width="3"/>
<rect x="646.7" y="804.6" width="37.1" height="11.4" fill="#d4d4d4" stroke="#000" stroke-width="3"/>
<line x1="126.9" y1="583" x2="126.9" y2="654.3" stroke="#000" stroke-width="2.3"/>
<line x1="120.2" y1="584.1" x2="126.9" y2="584.1" stroke="#000" stroke-width="2.3"/>
<text x="117.2" y="586.15" font-size="15.3" font-weight="bold" fill="#000" text-anchor="end">200</text>
<line x1="120.2" y1="607.47" x2="126.9" y2="607.47" stroke="#000" stroke-width="2.3"/>
<text x="117.2" y="611.22" font-size="15.3" font-weight="bold" fill="#000" text-anchor="end">150</text>
<line x1="120.2" y1="630.83" x2="126.9" y2="630.83" stroke="#000" stroke-width="2.3"/>
<text x="117.2" y="636.38" font-size="15.3" font-weight="bold" fill="#000" text-anchor="end">100</text>
<line x1="120.2" y1="654.2" x2="132.9" y2="654.2" stroke="#000" stroke-width="2.3"/>
<text x="117.2" y="659.75" font-size="15.3" font-weight="bold" fill="#000" text-anchor="end">50</text>
<line x1="126.9" y1="669.6" x2="126.9" y2="817.1" stroke="#000" stroke-width="2.3"/>
<line x1="120.2" y1="669.7" x2="132.9" y2="669.7" stroke="#000" stroke-width="2.3"/>
<text x="117.2" y="676.75" font-size="15.3" font-weight="bold" fill="#000" text-anchor="end">50</text>
<line x1="120.2" y1="698.96" x2="126.9" y2="698.96" stroke="#000" stroke-width="2.3"/>
<text x="117.2" y="703.01" font-size="15.3" font-weight="bold" fill="#000" text-anchor="end">40</text>
<line x1="120.2" y1="728.22" x2="126.9" y2="728.22" stroke="#000" stroke-width="2.3"/>
<text x="117.2" y="732.07" font-size="15.3" font-weight="bold" fill="#000" text-anchor="end">30</text>
<line x1="120.2" y1="757.48" x2="126.9" y2="757.48" stroke="#000" stroke-width="2.3"/>
<text x="117.2" y="762.13" font-size="15.3" font-weight="bold" fill="#000" text-anchor="end">20</text>
<line x1="120.2" y1="786.74" x2="126.9" y2="786.74" stroke="#000" stroke-width="2.3"/>
<text x="117.2" y="791.59" font-size="15.3" font-weight="bold" fill="#000" text-anchor="end">10</text>
<line x1="120.2" y1="816" x2="126.9" y2="816" stroke="#000" stroke-width="2.3"/>
<text x="117.2" y="822.05" font-size="15.3" font-weight="bold" fill="#000" text-anchor="end">0</text>
<line x1="125.9" y1="816" x2="694.7" y2="816" stroke="#000" stroke-width="2.3"/>
<line x1="155" y1="816" x2="155" y2="822.4" stroke="#000" stroke-width="2.5"/>
<line x1="211.6" y1="816" x2="211.6" y2="822.4" stroke="#000" stroke-width="2.5"/>
<line x1="268.6" y1="816" x2="268.6" y2="822.4" stroke="#000" stroke-width="2.5"/>
<line x1="325.2" y1="816" x2="325.2" y2="822.4" stroke="#000" stroke-width="2.5"/>
<line x1="381.5" y1="816" x2="381.5" y2="822.4" stroke="#000" stroke-width="2.5"/>
<line x1="438.2" y1="816" x2="438.2" y2="822.4" stroke="#000" stroke-width="2.5"/>
<line x1="494.8" y1="816" x2="494.8" y2="822.4" stroke="#000" stroke-width="2.5"/>
<line x1="551.8" y1="816" x2="551.8" y2="822.4" stroke="#000" stroke-width="2.5"/>
<line x1="608.6" y1="816" x2="608.6" y2="822.4" stroke="#000" stroke-width="2.5"/>
<line x1="665.5" y1="816" x2="665.5" y2="822.4" stroke="#000" stroke-width="2.5"/>
<text x="183.2" y="838.4" font-size="17" font-weight="bold" fill="#000" text-anchor="middle">Basal</text>
<text x="300.7" y="838.4" font-size="17" font-weight="bold" fill="#000" text-anchor="middle">CI</text>
<text x="409.7" y="838.4" font-size="17" font-weight="bold" fill="#000" text-anchor="middle">CII</text>
<text x="524" y="838.4" font-size="17" font-weight="bold" fill="#000" text-anchor="middle">CIV</text>
<text x="637.3" y="838.4" font-size="17" font-weight="bold" fill="#000" text-anchor="middle">Non-Mito</text>
<rect x="146.2" y="581.5" width="56.6" height="18.4" fill="#fff" stroke="#000" stroke-width="2.6" rx="1.5"/>
<text x="211" y="596.3" font-size="17" font-weight="bold" fill="#000" text-anchor="start">Control</text>
<rect x="298.8" y="582.6" width="55" height="18.4" fill="#d4d4d4" stroke="#000" stroke-width="2.6" rx="1.5"/>
<text x="363.6" y="597.3" font-size="17" font-weight="bold" fill="#000" text-anchor="start">DSS</text>
<text x="0" y="0" font-size="16.4" font-weight="bold" fill="#000" text-anchor="middle" transform="translate(55.8,696.5) rotate(-90)">O<tspan font-size="11" dy="3.2">2</tspan><tspan dy="-3.2"> specific flux</tspan></text>
<text x="0" y="0" font-size="16.1" font-weight="bold" fill="#000" text-anchor="middle" transform="translate(75.3,694.1) rotate(-90)">(pmol O<tspan font-size="11" dy="3.2">2</tspan><tspan dy="-3.2"> / s</tspan><tspan font-size="10.5" dy="-6.5">*</tspan><tspan dy="6.5">10</tspan><tspan font-size="11" dy="-6.5">6</tspan><tspan dy="6.5"> cells)</tspan></text>
<line x1="155.35" y1="706.3" x2="155.35" y2="716.5" stroke="#000" stroke-width="3"/>
<line x1="146.85" y1="706.3" x2="163.85" y2="706.3" stroke="#000" stroke-width="3"/>
<line x1="146.85" y1="716.5" x2="163.85" y2="716.5" stroke="#000" stroke-width="3"/>
<circle cx="150.1" cy="697.2" r="3.4" fill="#000"/>
<circle cx="160.8" cy="704.4" r="3.4" fill="#000"/>
<circle cx="143.6" cy="713" r="3.4" fill="#000"/>
<circle cx="165.1" cy="718.7" r="3.4" fill="#000"/>
<circle cx="155.1" cy="722.6" r="3.4" fill="#000"/>
<line x1="212" y1="733.2" x2="212" y2="740" stroke="#000" stroke-width="3"/>
<line x1="203.5" y1="733.2" x2="220.5" y2="733.2" stroke="#000" stroke-width="3"/>
<line x1="203.5" y1="740" x2="220.5" y2="740" stroke="#000" stroke-width="3"/>
<circle cx="211.7" cy="726.2" r="3.4" fill="#000"/>
<circle cx="205.3" cy="733" r="3.4" fill="#000"/>
<circle cx="222.5" cy="735.5" r="3.4" fill="#000"/>
<circle cx="217" cy="741" r="3.4" fill="#000"/>
<circle cx="206.4" cy="747.3" r="3.4" fill="#000"/>
<path d="M213.4,700.8 L214.35,695.35 A1.85,1.85 0 0 0 210.65,695.35 L211.6,700.8 Z M212.95,701.58 L218.14,699.68 A1.85,1.85 0 0 0 216.29,696.47 L212.05,700.02 Z M212.05,701.58 L216.29,705.13 A1.85,1.85 0 0 0 218.14,701.92 L212.95,700.02 Z M211.6,700.8 L210.65,706.25 A1.85,1.85 0 0 0 214.35,706.25 L213.4,700.8 Z M212.05,700.02 L206.86,701.92 A1.85,1.85 0 0 0 208.71,705.13 L212.95,701.58 Z M212.95,700.02 L208.71,696.47 A1.85,1.85 0 0 0 206.86,699.68 L212.05,701.58 Z " fill="#000"/>
<circle cx="212.5" cy="700.8" r="1.6" fill="#000"/>
<line x1="268.6" y1="689.4" x2="268.6" y2="700.9" stroke="#000" stroke-width="3"/>
<line x1="260.1" y1="689.4" x2="277.1" y2="689.4" stroke="#000" stroke-width="3"/>
<line x1="260.1" y1="700.9" x2="277.1" y2="700.9" stroke="#000" stroke-width="3"/>
<circle cx="268.4" cy="678.6" r="3.4" fill="#000"/>
<circle cx="262.9" cy="687.7" r="3.4" fill="#000"/>
<circle cx="279" cy="694.8" r="3.4" fill="#000"/>
<circle cx="273.7" cy="704" r="3.4" fill="#000"/>
<circle cx="262.9" cy="710.6" r="3.4" fill="#000"/>
<line x1="325.5" y1="719.5" x2="325.5" y2="728.8" stroke="#000" stroke-width="3"/>
<line x1="317" y1="719.5" x2="334" y2="719.5" stroke="#000" stroke-width="3"/>
<line x1="317" y1="728.8" x2="334" y2="728.8" stroke="#000" stroke-width="3"/>
<circle cx="330.3" cy="712" r="3.4" fill="#000"/>
<circle cx="314.6" cy="718.3" r="3.4" fill="#000"/>
<circle cx="327.5" cy="722.4" r="3.4" fill="#000"/>
<circle cx="330.6" cy="728.8" r="3.4" fill="#000"/>
<circle cx="325.5" cy="738.5" r="3.4" fill="#000"/>
<path d="M324.8,689.4 L325.75,683.95 A1.85,1.85 0 0 0 322.05,683.95 L323,689.4 Z M324.35,690.18 L329.54,688.28 A1.85,1.85 0 0 0 327.69,685.07 L323.45,688.62 Z M323.45,690.18 L327.69,693.73 A1.85,1.85 0 0 0 329.54,690.52 L324.35,688.62 Z M323,689.4 L322.05,694.85 A1.85,1.85 0 0 0 325.75,694.85 L324.8,689.4 Z M323.45,688.62 L318.26,690.52 A1.85,1.85 0 0 0 320.11,693.73 L324.35,690.18 Z M324.35,688.62 L320.11,685.07 A1.85,1.85 0 0 0 318.26,688.28 L323.45,690.18 Z " fill="#000"/>
<circle cx="323.9" cy="689.4" r="1.6" fill="#000"/>
<line x1="381.9" y1="732.3" x2="381.9" y2="741" stroke="#000" stroke-width="3"/>
<line x1="373.4" y1="732.3" x2="390.4" y2="732.3" stroke="#000" stroke-width="3"/>
<line x1="373.4" y1="741" x2="390.4" y2="741" stroke="#000" stroke-width="3"/>
<circle cx="381.5" cy="717.9" r="3.4" fill="#000"/>
<circle cx="367.2" cy="742.6" r="3.4" fill="#000"/>
<circle cx="376.5" cy="745.2" r="3.4" fill="#000"/>
<circle cx="386.6" cy="744.5" r="3.4" fill="#000"/>
<circle cx="396.6" cy="737.7" r="3.4" fill="#000"/>
<line x1="438.6" y1="762.4" x2="438.6" y2="770.3" stroke="#000" stroke-width="3"/>
<line x1="430.1" y1="762.4" x2="447.1" y2="762.4" stroke="#000" stroke-width="3"/>
<line x1="430.1" y1="770.3" x2="447.1" y2="770.3" stroke="#000" stroke-width="3"/>
<circle cx="433.2" cy="756.4" r="3.4" fill="#000"/>
<circle cx="444" cy="756.9" r="3.4" fill="#000"/>
<circle cx="428.2" cy="768.8" r="3.4" fill="#000"/>
<circle cx="438.9" cy="778.2" r="3.4" fill="#000"/>
<circle cx="449" cy="776" r="3.4" fill="#000"/>
<path d="M439.1,730.8 L440.05,725.35 A1.85,1.85 0 0 0 436.35,725.35 L437.3,730.8 Z M438.65,731.58 L443.84,729.68 A1.85,1.85 0 0 0 441.99,726.47 L437.75,730.02 Z M437.75,731.58 L441.99,735.13 A1.85,1.85 0 0 0 443.84,731.92 L438.65,730.02 Z M437.3,730.8 L436.35,736.25 A1.85,1.85 0 0 0 440.05,736.25 L439.1,730.8 Z M437.75,730.02 L432.56,731.92 A1.85,1.85 0 0 0 434.41,735.13 L438.65,731.58 Z M438.65,730.02 L434.41,726.47 A1.85,1.85 0 0 0 432.56,729.68 L437.75,731.58 Z " fill="#000"/>
<circle cx="438.2" cy="730.8" r="1.6" fill="#000"/>
<line x1="495.4" y1="597" x2="495.4" y2="602" stroke="#000" stroke-width="3"/>
<line x1="486.9" y1="597" x2="503.9" y2="597" stroke="#000" stroke-width="3"/>
<line x1="486.9" y1="602" x2="503.9" y2="602" stroke="#000" stroke-width="3"/>
<circle cx="480.3" cy="600.5" r="3.4" fill="#000"/>
<circle cx="489" cy="598" r="3.4" fill="#000"/>
<circle cx="495.5" cy="596" r="3.4" fill="#000"/>
<circle cx="502" cy="599.5" r="3.4" fill="#000"/>
<circle cx="510" cy="598.5" r="3.4" fill="#000"/>
<circle cx="490" cy="605" r="3.4" fill="#000"/>
<circle cx="499" cy="604" r="3.4" fill="#000"/>
<line x1="552.3" y1="605.7" x2="552.3" y2="626" stroke="#000" stroke-width="3"/>
<line x1="543.8" y1="605.7" x2="560.8" y2="605.7" stroke="#000" stroke-width="3"/>
<line x1="543.8" y1="626" x2="560.8" y2="626" stroke="#000" stroke-width="3"/>
<circle cx="551.7" cy="594.1" r="3.4" fill="#000"/>
<circle cx="546" cy="601.3" r="3.4" fill="#000"/>
<circle cx="557.6" cy="606.6" r="3.4" fill="#000"/>
<circle cx="557.6" cy="637.3" r="3.4" fill="#000"/>
<circle cx="547" cy="642" r="3.4" fill="#000"/>
<line x1="608.7" y1="747.4" x2="608.7" y2="774.6" stroke="#000" stroke-width="3"/>
<line x1="600.2" y1="747.4" x2="617.2" y2="747.4" stroke="#000" stroke-width="3"/>
<line x1="600.2" y1="774.6" x2="617.2" y2="774.6" stroke="#000" stroke-width="3"/>
<circle cx="603.3" cy="734.3" r="3.4" fill="#000"/>
<circle cx="613.9" cy="733.3" r="3.4" fill="#000"/>
<circle cx="609.6" cy="750.5" r="3.4" fill="#000"/>
<circle cx="613.3" cy="790.3" r="3.4" fill="#000"/>
<circle cx="603.3" cy="797.5" r="3.4" fill="#000"/>
<line x1="665.3" y1="801.5" x2="665.3" y2="806.5" stroke="#000" stroke-width="3"/>
<line x1="656.8" y1="801.5" x2="673.8" y2="801.5" stroke="#000" stroke-width="3"/>
<line x1="656.8" y1="806.5" x2="673.8" y2="806.5" stroke="#000" stroke-width="3"/>
<circle cx="652.5" cy="801.5" r="3.4" fill="#000"/>
<circle cx="660" cy="803.5" r="3.4" fill="#000"/>
<circle cx="667" cy="805.5" r="3.4" fill="#000"/>
<circle cx="674.5" cy="803.5" r="3.4" fill="#000"/>
<circle cx="681" cy="802.5" r="3.4" fill="#000"/>
<circle cx="664" cy="809" r="3.4" fill="#000"/>
<path d="M665.9,771.5 L666.85,766.05 A1.85,1.85 0 0 0 663.15,766.05 L664.1,771.5 Z M665.45,772.28 L670.64,770.38 A1.85,1.85 0 0 0 668.79,767.17 L664.55,770.72 Z M664.55,772.28 L668.79,775.83 A1.85,1.85 0 0 0 670.64,772.62 L665.45,770.72 Z M664.1,771.5 L663.15,776.95 A1.85,1.85 0 0 0 666.85,776.95 L665.9,771.5 Z M664.55,770.72 L659.36,772.62 A1.85,1.85 0 0 0 661.21,775.83 L665.45,772.28 Z M665.45,770.72 L661.21,767.17 A1.85,1.85 0 0 0 659.36,770.38 L664.55,772.28 Z " fill="#000"/>
<circle cx="665" cy="771.5" r="1.6" fill="#000"/>
</svg>
</body></html>
